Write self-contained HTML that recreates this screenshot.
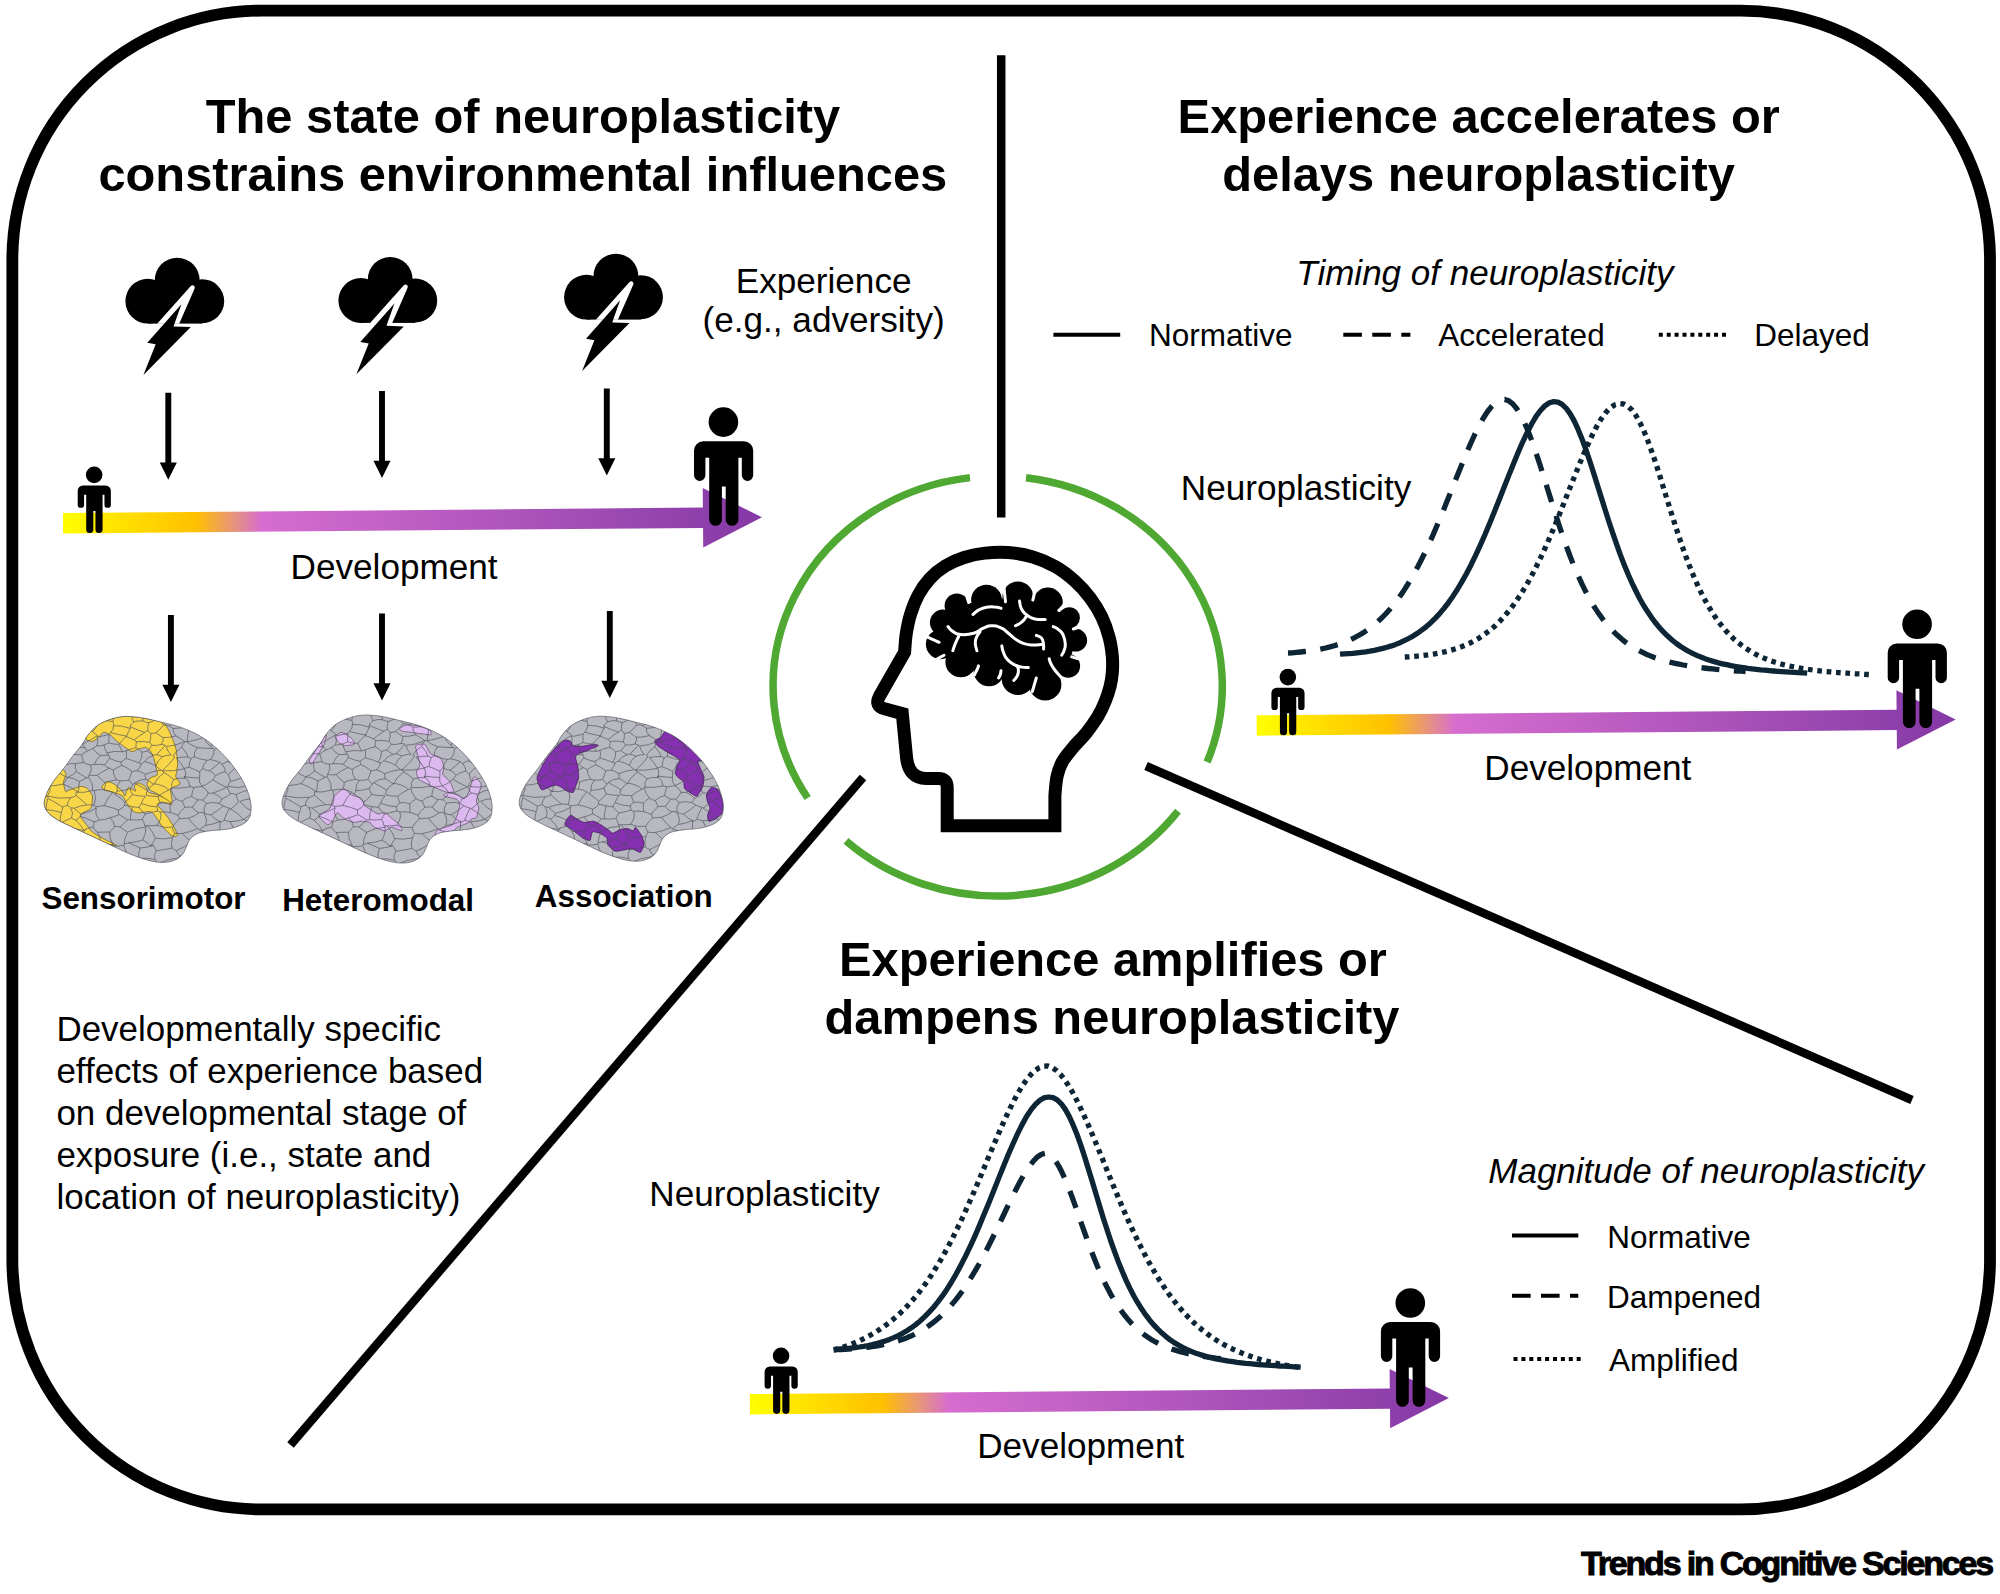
<!DOCTYPE html>
<html lang="en"><head><meta charset="utf-8"><title>Neuroplasticity figure</title>
<style>
html,body{margin:0;padding:0;background:#fff;}
body{width:2000px;height:1594px;overflow:hidden;}
svg{display:block;}
text{font-family:"Liberation Sans",Arial,Helvetica,sans-serif;fill:#000;}
.b{font-weight:700;}
.i{font-style:italic;}
</style></head><body>
<svg width="2000" height="1594" viewBox="0 0 2000 1594">
<rect x="12.35" y="10.65" width="1977.65" height="1498.75" rx="249.5" ry="249.5" fill="#fff" stroke="#000" stroke-width="11.8"/>
<g stroke="#000" stroke-width="8.5" fill="none">
<line x1="1001.2" y1="55.2" x2="1001.2" y2="517.6"/>
<line x1="863" y1="777.6" x2="290.5" y2="1444.9"/>
<line x1="1146" y1="766" x2="1912" y2="1100"/>
</g>
<g stroke="#4fa832" stroke-width="7.5" fill="none">
<path d="M970,477.6A224.6,210 0 0 0 807.7,798"/>
<path d="M1026,477.7A224.6,210 0 0 1 1207.1,762"/>
<path d="M846,840.9A224.6,210 0 0 0 1178,811.2"/>
</g>
<defs>
<linearGradient id="dg" gradientUnits="userSpaceOnUse" x1="0" y1="0" x2="699" y2="0"><stop offset="0" stop-color="#ffff00"/><stop offset="0.06" stop-color="#ffe800"/><stop offset="0.19" stop-color="#ffc000"/><stop offset="0.243" stop-color="#e8957a"/><stop offset="0.284" stop-color="#d66dcf"/><stop offset="0.45" stop-color="#c462c6"/><stop offset="0.75" stop-color="#a04db4"/><stop offset="1" stop-color="#8438a6"/></linearGradient>
<g id="cloud"><circle cx="37.8" cy="56.2" r="22.4"/><circle cx="67.2" cy="35.1" r="22.4"/><circle cx="92.2" cy="56.2" r="22"/><rect x="37.8" y="50" width="54.4" height="28.6"/><path d="M80.6,41.2Q82.6,39.3 84.2,41Q85.3,42.2 84.5,43.8L69.2,78.8L47.1,78.8Z" fill="#fff"/><path d="M71.4,59.2L63.5,81.4L80.8,82.1L33.4,130L45.7,99.2L37.3,97.7Z"/></g>
<g id="person"><circle cx="29.4" cy="14.8" r="14.8"/><path d="M9.3,33.9H49.9A9.3,9.3 0 0 1 59.2,43.2V68A5.7,5.7 0 0 1 47.8,68V50.4H44.4V112.2A5.9,5.9 0 0 1 31.7,112.2V79.2H27.9V112.2A5.9,5.9 0 0 1 15.2,112.2V50.4H11.4V68A5.7,5.7 0 0 1 0,68V43.2A9.3,9.3 0 0 1 9.3,33.9Z"/></g>
<g id="devarrow"><g transform="rotate(-0.5)"><path d="M0,-10.2H640V-29.7L699,0L640,29.7V10.2H0Z" fill="url(#dg)"/></g><use href="#person" transform="translate(14.7,-56.7) scale(0.56)"/><use href="#person" transform="translate(631,-116)"/></g>
<g id="varrow"><path d="M-2.95,0H2.95V69.7H8.55L0,86.9L-8.55,69.7H-2.95Z"/></g>
</defs>
<use href="#cloud" x="110" y="245"/>
<use href="#cloud" x="323" y="244.3"/>
<use href="#cloud" x="548.7" y="241"/>
<use href="#varrow" x="168.3" y="392.8"/>
<use href="#varrow" x="382" y="391"/>
<use href="#varrow" x="606.8" y="388.5"/>
<use href="#varrow" x="170.9" y="615"/>
<use href="#varrow" x="382" y="613.5"/>
<use href="#varrow" x="609.8" y="611"/>
<use href="#devarrow" x="63" y="523.3"/>
<use href="#devarrow" x="1256.7" y="725.5"/>
<use href="#devarrow" x="749.9" y="1404.2"/>
<defs><path id="parc" d="M103,-94Q67,-94 30,-92M1094,9Q1082,51 1096,94M1114,79Q1108,86 1096,94M858,-66Q846,-56 832,-54M201,-91Q235,-106 269,-91M173,-84Q186,-88 201,-91M-94,-92Q-73,-74 -69,-45M-69,-45Q-55,-35 -41,-36M-69,-45Q-77,-33 -78,-22M-117,51Q-103,37 -97,30M-78,-22Q-80,9 -97,30M30,-92Q35,-83 33,-75M33,-75Q4,-51 -15,-27M-41,-36Q-29,-32 -15,-27M1073,-74Q1077,-89 1070,-103M1094,9Q1074,12 1055,3M1055,3Q1050,-26 1049,-54M1073,-74Q1058,-61 1049,-54M1045,7Q1008,9 965,-18M967,-37Q965,-28 965,-18M967,-37Q998,-51 1025,-69M1049,-54Q1034,-64 1025,-69M832,-45Q823,-35 808,-18M736,-86Q744,-59 766,-27M808,-18Q788,-16 766,-27M311,1098Q310,1097 309,1097M443,1005Q427,999 408,996M443,1005Q439,1034 413,1062M413,1062Q383,1066 354,1066M354,1066Q367,1023 404,990M427,1101Q413,1080 413,1062M309,1097Q316,1084 328,1076M328,1076Q339,1069 354,1066M331,984Q311,1024 322,1063M331,984Q368,982 404,990M322,1063Q322,1068 328,1076M331,984Q320,970 314,953M335,890Q319,922 314,953M335,890Q359,895 384,885M384,885Q404,943 408,996M427,1101Q452,1096 477,1075M489,1090Q480,1084 477,1075M963,708Q932,722 899,723M963,708Q964,708 965,707M925,797Q954,766 982,719M925,797Q914,760 899,723M965,707Q973,714 982,719M928,808Q946,814 962,832M962,832Q991,799 1024,746M982,719Q1005,730 1024,746M736,-86Q711,-72 688,-55M688,-55Q692,-49 693,-42M766,-27Q745,-7 730,-1M693,-42Q718,-17 730,-1M808,-18Q797,16 811,50M811,50Q771,43 732,45M730,-1Q736,22 732,45M673,-61Q634,-68 602,-77M602,-77Q583,-94 574,-115M688,-55Q681,-58 673,-61M588,-19Q604,-46 602,-77M588,-19Q615,-1 644,1M644,1Q662,-21 693,-42M489,-61Q528,-83 574,-115M103,-94Q125,-69 132,-53M132,-53Q157,-58 175,-78M269,-91Q240,-42 247,5M175,-78Q183,-27 218,5M247,5Q233,2 218,5M344,-10Q333,13 332,36M332,36Q296,32 265,9M247,5Q256,11 265,9M904,-96Q936,-88 966,-66M858,-66Q872,-69 886,-71M886,-71Q896,-84 904,-96M967,-37Q963,-52 966,-66M866,615Q879,625 896,631M866,615Q843,645 807,676M896,631Q880,672 870,713M807,676Q822,707 855,726M870,713Q864,721 855,726M902,636Q898,632 896,631M902,636Q947,672 963,708M899,723Q884,718 870,713M832,-45Q861,-31 874,-6M886,-71Q884,-28 916,8M874,-6Q897,-0 916,8M965,-18Q959,3 938,16M916,8Q928,17 938,16M1096,94Q1084,97 1072,95M1045,7Q1045,46 1019,75M1019,75Q1025,78 1033,77M1072,95Q1056,81 1033,77M-75,905Q-74,899 -77,893M311,1098Q278,1097 249,1083M249,1083Q231,1100 205,1103M477,848Q493,804 492,760M477,848Q447,864 407,868M492,760Q442,764 403,795M403,795Q387,835 387,877M387,877Q399,873 407,868M1110,1099Q1103,1093 1098,1088M1098,1088Q1088,1071 1085,1050M1069,980Q1095,981 1119,983M1069,980Q1061,976 1057,968M1057,968Q1078,1005 1082,1044M1085,1050Q1083,1046 1082,1044M1057,968Q1025,998 1006,1032M1082,1044Q1047,1044 1012,1039M1053,748Q1057,709 1053,671M1053,748Q1083,748 1115,759M1093,668Q1074,678 1053,671M965,707Q992,677 1015,659M1030,752Q1041,747 1053,748M1013,661Q1032,667 1053,671M1043,619Q1032,637 1013,661M344,-10Q370,0 395,-8M395,-8Q393,-41 413,-74M489,-61Q490,-66 489,-70M413,-74Q451,-68 489,-70M396,289Q381,306 370,313M396,289Q431,303 458,319M375,336Q399,348 424,378M375,336Q375,325 370,313M424,378Q437,376 450,372M450,372Q467,347 470,325M458,319Q464,323 470,325M396,236Q421,222 444,215M396,236Q401,262 396,289M473,246Q460,228 444,215M473,246Q477,283 458,319M409,438Q418,406 424,378M409,438Q425,458 430,471M430,471Q431,465 436,458M436,458Q462,433 492,431M492,431Q487,415 489,398M489,398Q468,378 450,372M486,310Q519,321 540,340M486,310Q477,317 470,325M489,398Q521,375 565,370M540,340Q555,359 565,370M33,-75Q51,-66 67,-49M132,-53Q123,-51 113,-49M67,-49Q90,-46 113,-49M-117,51Q-108,83 -87,116M-97,30Q-64,52 -30,57M-30,57Q-48,85 -45,114M-45,114Q-66,115 -87,116M-87,116Q-91,124 -92,133M-92,239Q-89,237 -86,235M-14,196Q-50,158 -92,133M-14,196Q-21,210 -18,224M-86,235Q-51,236 -18,224M321,111Q363,127 398,136M321,111Q316,119 313,124M398,136Q374,168 361,192M313,124Q313,153 312,182M312,182Q336,193 361,192M-12,543Q4,553 20,552M-12,543Q-51,520 -88,501M20,552Q18,549 16,548M10,430Q-52,479 -90,491M10,430Q13,455 28,478M-88,501Q-88,496 -90,491M28,478Q33,513 16,548M716,623Q731,600 742,573M716,623Q724,647 748,662M748,662Q759,657 769,660M784,597Q774,582 766,574M784,597Q766,630 775,666M766,574Q754,573 742,573M698,699Q715,737 743,770M698,699Q729,685 748,662M780,749Q793,705 769,660M780,749Q765,762 750,780M743,770Q747,773 750,780M866,615Q859,608 845,597M807,676Q791,677 775,666M845,597Q815,586 784,597M850,722Q818,742 780,749M850,722Q853,725 855,726M680,626Q675,602 667,583M680,626Q698,622 716,623M742,573Q725,563 713,549M667,583Q682,558 713,549M1034,596Q1042,607 1043,619M1034,596Q1052,569 1056,533M1056,533Q1067,534 1077,540M1089,510Q1086,524 1077,540M927,537Q963,508 1000,504M927,537Q933,561 939,588M946,584Q970,569 991,568M991,568Q1001,545 1014,516M1014,516Q1013,511 1009,506M1000,504Q1005,507 1009,506M900,530Q914,528 927,537M900,530Q888,505 886,485M984,477Q989,492 1000,504M984,477Q935,499 888,480M902,636Q920,619 939,588M845,597Q858,580 859,568M859,568Q888,550 900,530M1015,659Q974,634 946,584M1034,596Q1011,582 991,568M1056,533Q1035,528 1014,516M766,574Q789,550 793,526M713,549Q714,521 724,489M724,489Q743,484 763,481M763,481Q786,500 793,526M859,568Q847,544 817,526M886,485Q884,486 882,487M882,487Q849,510 817,526M817,526Q805,531 793,526M874,-6Q858,35 837,60M809,46Q822,51 837,60M1072,95Q1088,146 1080,199M1033,77Q1019,109 1004,134M1004,134Q1032,166 1080,199M-118,827Q-125,777 -94,719M-94,719Q-95,713 -95,708M-88,501Q-117,547 -111,602M-12,543Q-54,596 -85,621M-111,602Q-97,615 -85,621M322,1063Q290,1028 252,975M249,1083Q231,1039 235,989M235,989Q243,979 252,975M314,953Q278,956 240,985M252,975Q244,980 240,985M477,1075Q486,1072 494,1074M574,1069Q574,1039 553,1014M553,1014Q524,1034 494,1074M494,1074Q486,1042 448,1003M384,885Q387,882 387,877M464,904Q454,941 458,976M464,904Q432,882 407,868M448,1003Q458,990 458,976M499,751Q492,751 485,748M499,751Q525,788 538,837M485,748Q490,754 492,760M477,848Q499,865 515,890M538,837Q529,859 515,890M464,904Q497,901 528,885M515,890Q522,885 528,885M574,1069Q598,1062 624,1073M624,1073Q651,1093 669,1103M668,804Q685,835 715,861M668,804Q705,794 743,770M774,788Q762,787 750,780M774,788Q753,828 717,849M417,710Q410,708 404,711M417,710Q416,665 427,621M404,711Q378,687 360,674M360,674Q359,658 359,643M359,643Q380,632 390,609M390,609Q411,614 427,621M474,708Q485,729 485,748M474,708Q446,714 417,710M403,795Q382,776 367,759M367,759Q385,735 404,711M499,509Q472,485 436,458M499,509Q491,526 495,542M430,471Q420,481 416,497M416,497Q419,518 427,537M427,537Q457,549 490,548M561,658Q586,652 611,660M561,658Q572,702 545,748M620,761Q633,729 654,704M620,761Q580,770 545,748M611,660Q628,667 647,679M647,679Q652,692 654,704M631,802Q649,806 668,804M631,802Q620,779 620,761M698,699Q677,700 654,704M631,802Q624,818 621,832M499,751Q523,752 545,748M621,832Q579,848 538,837M680,626Q656,656 647,679M609,602Q607,631 611,660M609,602Q621,581 639,567M639,567Q654,581 667,583M980,856Q989,897 1009,939M980,856Q950,891 924,934M1009,939Q998,970 977,990M977,990Q948,973 930,960M924,934Q926,948 930,960M1044,956Q1028,942 1009,939M1044,956Q1052,968 1069,980M997,1019Q1002,1025 1006,1032M997,1019Q985,1002 977,990M997,1019Q956,1054 917,1063M909,989Q898,1026 917,1063M909,989Q923,975 930,960M1115,918Q1092,919 1070,924M1115,918Q1102,880 1115,842M1070,924Q1057,894 1032,859M1115,842Q1100,833 1089,832M1089,832Q1071,838 1058,852M1058,852Q1045,860 1032,859M1044,956Q1061,937 1070,924M977,854Q1004,861 1032,859M1115,759Q1118,794 1089,832M1030,752Q1031,803 1058,852M962,832Q965,841 977,854M1098,1088Q1063,1100 1033,1109M1012,1039Q1009,1065 1009,1091M1033,1109Q1019,1100 1009,1091M493,-52Q484,-44 477,-30M493,-52Q520,-28 551,-5M477,-30Q473,1 478,32M558,13Q554,5 551,-5M558,13Q530,31 506,44M506,44Q490,42 478,32M395,-8Q408,-7 421,-9M421,-9Q450,-20 477,-30M489,-70Q489,-61 493,-52M588,-19Q570,-16 551,-5M421,-9Q423,14 433,39M433,39Q457,26 478,32M416,83Q406,108 397,140M416,83Q417,77 415,70M415,70Q445,91 486,110M486,110Q451,140 436,162M436,162Q418,148 397,140M321,111Q338,86 335,64M335,64Q376,60 416,83M398,136Q399,138 397,140M332,36Q338,49 335,64M433,39Q418,54 415,70M502,96Q492,104 486,110M502,96Q498,70 506,44M446,175Q477,168 510,178M446,175Q443,166 436,162M502,96Q507,106 515,119M510,178Q518,149 515,119M396,236Q387,242 378,243M446,175Q443,194 444,215M361,192Q368,215 378,243M473,246Q485,243 499,237M486,310Q499,279 529,267M529,267Q512,255 499,237M510,178Q515,187 521,199M499,237Q511,220 521,199M515,119Q527,117 540,112M558,13Q567,39 577,60M540,112Q561,88 577,60M641,19Q643,10 644,1M641,19Q632,48 606,66M606,66Q593,58 577,60M218,5Q208,2 198,7M113,-49Q113,-21 119,6M198,7Q158,11 119,6M265,9Q266,55 234,107M313,124Q287,133 263,140M234,107Q251,122 263,140M-86,235Q-101,271 -88,308M-99,447Q-87,470 -85,487M-99,447Q-81,432 -72,424M-72,424Q-96,398 -108,380M-88,308Q-79,316 -72,324M-108,380Q-85,349 -72,324M416,497Q383,513 352,513M427,537Q415,563 390,589M390,589Q365,554 342,536M352,513Q351,523 342,536M409,438Q389,443 368,442M352,513Q348,476 368,442M375,336Q347,355 334,369M334,369Q333,406 351,436M368,442Q360,441 351,436M289,613Q307,561 331,522M289,613Q327,623 359,643M390,609Q387,599 390,589M331,522Q337,528 342,536M984,477Q969,444 970,407M970,407Q983,403 999,401M1009,506Q1017,478 1046,450M999,401Q1028,431 1046,450M1089,510Q1070,478 1062,454M1081,440Q1069,444 1062,454M1062,454Q1054,449 1046,450M1004,134Q989,128 973,132M957,164Q965,149 973,132M957,164Q1011,200 1055,214M1077,191Q1067,197 1055,210M1055,214Q1054,212 1055,210M882,487Q847,465 815,436M815,436Q788,469 764,480M724,489Q714,483 705,483M705,483Q705,446 678,414M678,414Q714,422 751,423M751,423Q745,453 764,480M691,175Q695,120 702,65M691,175Q738,162 773,145M767,122Q769,133 773,145M767,122Q752,82 725,41M725,41Q709,49 703,65M703,65Q703,65 702,65M741,215Q704,196 685,170M741,215Q779,220 818,221M818,221Q809,215 805,206M805,206Q779,180 773,145M805,206Q825,161 827,123M794,117Q812,122 827,123M794,117Q782,116 767,122M732,45Q729,43 725,41M809,46Q795,83 794,117M641,19Q674,39 703,65M606,66Q616,77 624,83M624,83Q662,84 702,65M888,120Q912,95 932,86M888,120Q878,112 872,105M872,105Q863,91 844,71M844,71Q888,52 937,44M932,86Q938,64 945,44M945,44Q941,44 937,44M936,174Q908,147 888,120M936,174Q945,168 957,164M973,132Q944,107 932,86M936,174Q929,185 930,198M855,123Q864,113 872,105M855,123Q857,162 864,200M930,198Q897,198 864,200M837,60Q840,64 844,71M855,123Q841,119 827,123M938,16Q936,30 937,44M1019,75Q978,55 945,44M335,890Q333,885 333,881M240,985Q226,957 217,931M333,881Q300,883 266,877M266,877Q252,878 237,881M237,881Q223,908 217,931M241,724Q243,741 236,760M241,724Q253,720 268,711M257,796Q287,794 317,794M257,796Q246,780 236,760M268,711Q290,714 317,696M317,696Q341,724 340,759M340,759Q325,778 317,794M333,881Q313,835 317,794M266,877Q279,837 257,796M204,771Q221,764 236,760M204,771Q175,807 179,845M179,845Q202,867 237,881M289,613Q270,618 248,620M248,620Q251,625 252,630M252,630Q243,674 268,711M360,674Q337,693 317,696M367,759Q354,753 340,759M621,832Q611,867 619,904M528,885Q536,905 542,924M542,924Q584,914 619,904M458,976Q499,968 536,984M542,924Q527,953 536,984M553,1014Q552,1013 551,1011M551,1011Q546,998 536,984M715,861Q678,900 640,922M619,904Q627,915 640,922M874,872Q852,883 834,892M874,872Q884,847 894,823M834,892Q824,850 816,804M894,823Q870,799 846,795M846,795Q830,805 816,804M928,808Q910,811 894,823M917,926Q892,891 874,872M917,926Q922,930 924,934M850,722Q852,759 846,795M774,788Q783,805 794,814M794,814Q805,813 816,804M917,926Q862,929 799,963M817,1000Q862,981 909,989M817,1000Q812,985 799,971M834,892Q824,896 816,900M799,963Q812,935 816,900M794,814Q789,843 775,872M816,900Q796,890 775,872M717,849Q722,863 728,874M775,872Q751,878 728,874M816,1087Q823,1077 826,1065M826,1065Q850,1080 870,1088M749,1067Q731,1075 709,1094M749,1067Q784,1086 816,1087M817,1000Q827,1031 826,1065M909,1069Q893,1072 870,1088M669,1103Q680,1096 685,1090M709,1094Q696,1087 685,1090M547,650Q550,636 544,621M547,650Q520,660 489,670M544,621Q503,619 470,598M489,670Q473,653 460,627M460,627Q461,613 470,598M609,602Q585,589 562,595M562,595Q548,606 544,621M561,658Q553,652 547,650M474,708Q479,691 489,670M495,542Q524,551 551,550M490,548Q475,572 470,598M551,550Q552,572 562,595M427,621Q445,622 460,627M917,1078Q948,1068 982,1085M909,1069Q914,1073 917,1078M1009,1091Q995,1084 982,1085M540,340Q547,303 572,277M570,374Q610,325 632,279M632,279Q628,276 623,272M614,266Q595,263 572,277M529,267Q536,262 543,263M572,277Q555,266 543,263M680,174Q658,149 637,134M680,174Q631,204 590,206M637,134Q604,148 575,145M575,145Q578,168 567,192M567,192Q575,194 586,199M685,170Q679,178 676,184M624,83Q619,106 637,134M676,184Q665,196 665,211M665,211Q631,246 623,272M614,266Q594,236 590,206M540,112Q562,135 575,145M521,199Q544,203 567,192M543,263Q564,231 586,199M312,182Q298,193 289,196M378,243Q341,235 303,250M289,196Q294,225 303,250M316,288Q319,277 312,266M316,288Q342,307 370,313M312,266Q307,259 303,250M164,520Q123,479 91,465M164,520Q168,482 171,447M171,447Q144,421 114,419M91,465Q105,442 114,419M316,288Q305,310 292,334M334,369Q325,363 315,356M292,334Q300,349 315,356M-4,444Q-12,421 -31,403M-4,444Q38,403 69,383M-31,403Q-30,369 -29,335M69,383Q70,375 74,365M74,365Q39,338 13,329M13,329Q5,325 -6,320M-6,320Q-14,330 -29,335M10,430Q2,436 -4,444M-72,424Q-53,415 -31,403M28,478Q58,476 91,465M112,419Q113,419 114,419M112,419Q92,410 69,383M-72,324Q-49,328 -29,335M-18,224Q6,270 -6,320M626,433Q610,462 618,492M626,433Q604,406 580,386M580,386Q542,424 530,468M602,505Q607,500 612,496M602,505Q576,470 532,463M612,496Q615,493 618,492M705,483Q661,496 618,492M678,414Q678,419 679,425M679,425Q654,419 626,433M568,365Q570,377 580,386M570,374Q623,378 679,360M679,360Q690,392 679,425M492,431Q514,449 530,468M639,567Q619,536 612,496M551,550Q575,522 602,505M499,509Q509,484 532,463M1081,440Q1082,421 1093,406M999,401Q1020,374 1024,357M1093,406Q1088,379 1064,350M1024,357Q1042,352 1064,350M1088,340Q1076,349 1064,350M1088,340Q1084,308 1077,271M1055,210Q1074,243 1082,270M1077,271Q1079,270 1082,270M741,215Q721,247 726,277M726,277Q760,299 788,301M788,301Q796,300 804,296M804,296Q825,264 821,229M864,200Q855,207 843,213M821,229Q831,221 843,213M925,350Q909,322 888,310M925,350Q964,334 997,317M897,291Q890,300 888,310M897,291Q922,278 957,256M997,317Q993,306 993,295M993,295Q976,281 962,267M962,267Q957,262 957,256M930,198Q932,227 957,256M843,213Q874,251 897,291M1024,357Q1014,337 997,317M1082,270Q1039,279 993,295M1055,214Q1014,233 962,267M901,447Q895,423 892,400M901,447Q936,434 975,411M892,400Q903,375 927,351M975,411Q951,391 927,351M888,480Q889,463 901,447M970,407Q972,410 975,411M925,350Q926,350 927,351M800,374Q819,387 828,408M800,374Q832,338 849,316M828,408Q849,387 875,380M875,380Q877,357 860,329M849,316Q856,323 860,329M815,436Q824,420 828,408M751,423Q753,402 752,381M766,357Q759,369 752,381M766,357Q781,371 800,374M788,301Q768,331 766,357M804,296Q830,305 849,316M892,400Q879,389 875,380M888,310Q874,317 860,329M696,279Q667,277 639,286M696,279Q703,283 711,289M711,289Q700,318 700,349M639,286Q666,328 676,357M676,357Q688,354 700,349M665,211Q690,249 696,279M726,277Q717,281 711,289M752,381Q727,363 700,349M-111,1035Q-63,1072 -6,1070M204,771Q201,780 192,784M120,863Q149,843 179,845M120,863Q123,817 130,773M192,784Q160,771 130,773M87,870Q74,819 54,780M87,870Q96,868 107,867M59,747Q55,763 54,780M59,747Q68,743 77,745M120,863Q114,865 107,867M130,773Q109,756 77,745M46,727Q17,722 -10,734M46,727Q21,682 0,637M-10,734Q-30,704 -64,685M8,643Q-21,652 -60,675M59,747Q50,738 46,727M83,660Q75,696 78,733M83,660Q46,645 0,637M17,563Q43,581 89,622M17,563Q10,601 8,643M89,622Q89,642 83,660M-85,621Q-61,650 -60,675M-95,708Q-80,700 -64,685M10,806Q-11,802 -41,776M10,806Q16,837 12,868M-36,856Q-54,840 -62,814M-36,856Q-11,858 12,868M-41,776Q-44,786 -47,797M-47,797Q-58,808 -62,814M54,780Q36,785 10,806M-10,734Q-22,754 -41,776M8,867Q48,882 87,870M8,867Q10,867 12,868M-77,893Q-59,878 -36,856M-118,827Q-90,815 -62,814M-94,719Q-67,749 -47,797M16,548Q73,569 128,558M89,622Q100,616 111,611M111,611Q112,586 128,558M154,520Q155,532 155,543M155,543Q143,555 128,558M784,968Q765,945 740,932M784,968Q766,998 728,1019M740,932Q693,945 655,959M728,1019Q707,1030 686,1026M686,1026Q666,1009 653,993M653,993Q654,982 648,972M648,972Q654,965 655,959M799,971Q791,971 784,968M728,874Q737,900 740,932M749,1067Q730,1039 728,1019M640,922Q641,938 655,959M685,1090Q674,1058 686,1026M624,1073Q627,1030 653,993M551,1011Q595,979 648,972M67,-49Q67,-20 43,9M119,6Q112,18 111,27M43,9Q77,7 111,27M-15,-27Q-8,-1 11,16M43,9Q26,12 11,16M-30,57Q-17,50 2,37M11,16Q11,25 2,37M134,135Q102,116 73,117M134,135Q132,167 118,201M32,151Q26,173 21,191M32,151Q43,136 55,123M55,123Q64,120 73,117M21,191Q43,216 66,233M118,201Q99,211 76,225M66,233Q70,229 76,225M-14,196Q3,198 21,191M-45,114Q-2,125 32,151M2,37Q45,75 55,123M111,27Q109,43 108,57M108,57Q101,81 73,117M13,329Q31,274 66,233M101,334Q89,346 74,365M101,334Q107,299 98,264M98,264Q88,246 76,225M167,134Q197,101 227,92M167,134Q163,140 161,147M161,147Q169,105 147,67M227,92Q204,73 177,67M177,67Q162,66 147,67M108,57Q129,69 147,67M134,135Q147,137 161,147M198,7Q174,36 177,67M234,107Q229,99 227,92M118,201Q157,213 198,216M167,134Q167,161 186,191M198,216Q189,203 186,191M186,191Q225,162 255,134M289,196Q272,205 254,203M255,134Q265,169 254,203M351,436Q320,439 296,456M315,356Q279,378 257,404M257,404Q269,427 296,456M331,522Q309,506 289,504M296,456Q297,480 289,504M241,611Q246,616 248,620M241,611Q255,561 242,510M289,504Q266,499 242,510M154,520Q192,529 235,508M241,611Q224,605 207,608M207,608Q179,574 155,543M242,510Q239,510 235,508M112,419Q138,406 156,379M171,447Q185,435 206,422M206,422Q181,405 156,379M235,508Q239,465 215,418M206,422Q210,419 215,418M257,404Q237,409 217,403M215,418Q214,410 217,403M101,334Q126,319 152,325M156,379Q146,351 152,325M107,867Q117,888 119,906M217,931Q195,945 171,939M119,906Q152,914 171,939M-14,1016Q-29,999 -59,980M-14,1016Q4,987 31,976M9,948Q17,957 28,969M9,948Q-15,952 -40,954M-40,954Q-60,971 -74,984M28,969Q31,973 31,976M-74,984Q-67,985 -59,980M-111,1035Q-74,1009 -59,980M-14,1064Q-16,1040 -14,1016M8,867Q6,907 9,948M119,906Q107,926 93,943M93,943Q58,965 28,969M-75,905Q-54,926 -40,954M144,631Q136,627 128,628M144,631Q165,655 178,672M128,628Q144,664 132,698M178,672Q176,679 174,687M174,687Q168,699 153,713M153,713Q144,708 132,698M111,611Q122,618 128,628M207,608Q173,612 144,631M252,630Q223,657 178,672M78,733Q111,711 132,698M241,724Q201,694 174,687M192,784Q182,750 153,713M209,237Q223,231 235,220M209,237Q190,254 180,264M235,220Q248,251 272,268M272,268Q249,299 243,331M180,264Q187,292 190,317M190,317Q204,330 225,334M243,331Q234,329 225,334M198,216Q200,227 209,237M254,203Q247,210 235,220M98,264Q139,258 180,264M312,266Q292,267 272,268M292,334Q268,326 243,331M152,325Q173,317 190,317M217,403Q235,368 225,334M115,1008Q139,1018 162,1018M115,1008Q88,1023 72,1037M94,1075Q88,1065 78,1059M94,1075Q131,1077 168,1072M168,1072Q178,1046 167,1019M78,1059Q72,1047 72,1037M167,1019Q164,1018 162,1018M93,943Q106,972 115,1008M171,939Q172,977 162,1018M31,976Q48,1007 72,1037M95,1090Q91,1082 94,1075M-14,1064Q31,1052 78,1059M205,1103Q190,1080 168,1072M235,989Q198,1007 167,1019" fill="none" stroke="#4b4d59" stroke-width="0.75" stroke-opacity="0.85" vector-effect="non-scaling-stroke"/></defs>
<clipPath id="bc0"><path d="M44.2,804.5C43.9,801.3 45.1,797.5 46.6,793.7C48.1,789.9 50.5,785.7 53.2,781.7C55.9,777.7 59.6,773.9 62.8,769.7C66,765.5 69.2,760.7 72.4,756.5C75.6,752.4 79.4,748.2 82,744.6C84.6,741 85.4,738.2 88,735C90.6,731.8 93.6,728.1 97.5,725.4C101.5,722.7 107.1,720.3 111.9,718.8C116.7,717.3 120.9,716.5 126.3,716.4C131.7,716.3 138.3,717.2 144.3,718.2C150.3,719.2 156.3,720.9 162.3,722.4C168.3,723.9 174.3,725.1 180.3,727.2C186.3,729.3 192.7,731.9 198.3,735C203.8,738.1 208.8,741.6 213.8,745.8C218.8,750 224,755.3 228.2,760.1C232.4,764.9 236,769.9 239,774.5C242,779.1 244.3,783.3 246.2,787.7C248.1,792.1 249.6,797.1 250.4,800.9C251.2,804.7 251.3,807.5 251,810.5C250.7,813.5 250.2,816.5 248.6,818.9C247,821.3 244.8,823.2 241.4,824.9C238,826.5 233.4,828 228.2,829C223,830 215.2,830.1 210.2,830.8C205.2,831.5 201.4,832 198.3,833.2C195.1,834.4 192.9,836.2 191.1,838C189.3,839.8 188.7,841.6 187.5,844C186.3,846.4 185.5,850 183.9,852.4C182.3,854.8 180.5,856.8 177.9,858.4C175.3,860 171.9,861.4 168.3,862C164.7,862.6 160.7,862.6 156.3,862C151.9,861.4 146.9,860 141.9,858.4C136.9,856.8 131.9,854.8 126.3,852.4C120.7,850 114.3,846.8 108.3,844C102.3,841.2 96.3,838.4 90.4,835.6C84.4,832.8 77.8,829.8 72.4,827.2C67,824.7 62,822.5 58,820.1C54,817.7 50.7,815.5 48.4,812.9C46.1,810.3 44.5,807.7 44.2,804.5Z"/></clipPath>
<path d="M44.2,804.5C43.9,801.3 45.1,797.5 46.6,793.7C48.1,789.9 50.5,785.7 53.2,781.7C55.9,777.7 59.6,773.9 62.8,769.7C66,765.5 69.2,760.7 72.4,756.5C75.6,752.4 79.4,748.2 82,744.6C84.6,741 85.4,738.2 88,735C90.6,731.8 93.6,728.1 97.5,725.4C101.5,722.7 107.1,720.3 111.9,718.8C116.7,717.3 120.9,716.5 126.3,716.4C131.7,716.3 138.3,717.2 144.3,718.2C150.3,719.2 156.3,720.9 162.3,722.4C168.3,723.9 174.3,725.1 180.3,727.2C186.3,729.3 192.7,731.9 198.3,735C203.8,738.1 208.8,741.6 213.8,745.8C218.8,750 224,755.3 228.2,760.1C232.4,764.9 236,769.9 239,774.5C242,779.1 244.3,783.3 246.2,787.7C248.1,792.1 249.6,797.1 250.4,800.9C251.2,804.7 251.3,807.5 251,810.5C250.7,813.5 250.2,816.5 248.6,818.9C247,821.3 244.8,823.2 241.4,824.9C238,826.5 233.4,828 228.2,829C223,830 215.2,830.1 210.2,830.8C205.2,831.5 201.4,832 198.3,833.2C195.1,834.4 192.9,836.2 191.1,838C189.3,839.8 188.7,841.6 187.5,844C186.3,846.4 185.5,850 183.9,852.4C182.3,854.8 180.5,856.8 177.9,858.4C175.3,860 171.9,861.4 168.3,862C164.7,862.6 160.7,862.6 156.3,862C151.9,861.4 146.9,860 141.9,858.4C136.9,856.8 131.9,854.8 126.3,852.4C120.7,850 114.3,846.8 108.3,844C102.3,841.2 96.3,838.4 90.4,835.6C84.4,832.8 77.8,829.8 72.4,827.2C67,824.7 62,822.5 58,820.1C54,817.7 50.7,815.5 48.4,812.9C46.1,810.3 44.5,807.7 44.2,804.5Z" fill="#b8b9c0"/>
<g clip-path="url(#bc0)">
<path d="M86.4,739.6C85.9,738.9 86.5,736.2 87.6,734.8C88.7,733.4 94.8,726.8 97.2,725.2C99.6,723.6 108.7,719.5 111.6,718.6C114.5,717.7 122.8,716.3 126,716.2C129.2,716.1 140.4,717.4 144,718C147.6,718.6 159.8,721.4 162,722.2C164.2,723 165.5,724.9 166.2,725.8C166.9,726.7 168.5,729.8 169.2,731.2C169.9,732.6 172.1,737.9 172.8,739.6C173.5,741.3 175.4,746.3 175.8,748C176.2,749.7 176.8,754.7 177,756.4C177.2,758.1 177.7,763.1 177.6,764.8C177.5,766.5 176.6,772 176.4,773.2C176.2,774.4 175.4,775.7 175.8,776.8C176.2,777.9 180.5,782.8 180,784C179.5,785.2 171.2,787.6 170.4,788.8C169.6,790 171.5,794.6 171.6,796C171.7,797.4 172.3,803 171.6,803.2C170.9,803.4 165.8,799.4 164.4,798.4C163,797.4 158.6,794.4 157.2,793.6C155.8,792.8 151,791 150,790C149,789 147,785.2 147,784C147,782.8 149,778.9 150,778C151,777.1 156.6,776.1 157.2,775C157.8,773.9 156.4,768.9 156,767.2C155.6,765.5 154.2,759.3 153.6,757.6C153,755.9 150.8,751.4 150,750.4C149.2,749.4 146.4,747.5 145.2,747.4C144,747.3 139.3,748.8 138,749.2C136.7,749.6 133.2,751.7 132,751.6C130.8,751.5 127.1,748.7 126,748C124.9,747.3 122.2,745.1 121.2,744.4C120.2,743.7 117.4,741.6 116.4,740.8C115.4,740 112.6,736.8 111.6,736C110.6,735.2 107.6,733.4 106.8,733C106,732.6 103.9,732.1 103.2,732.4C102.5,732.7 100.2,735.4 99.6,736C99,736.6 97.9,737.9 97.2,738.4C96.5,738.9 93.5,741.3 92.4,741.4C91.3,741.5 86.9,740.3 86.4,739.6Z" fill="#f8d648" stroke="#6b5a10" stroke-width="0.7"/>
<path d="M43.8,804.4C43.6,802.5 45.3,795.9 46.2,793.6C47.1,791.3 51.2,784 52.8,781.6C54.4,779.2 61.1,770.3 62.4,769.6C63.7,768.9 65.9,773.2 66,774.4C66.1,775.6 63.7,779.9 63.6,781.6C63.5,783.3 64.7,790.4 65.4,791.2C66.1,792 69.2,789.9 70.8,789.4C72.4,788.9 79.9,786.5 81.6,786.4C83.3,786.3 86.5,787.8 87.6,788.8C88.7,789.8 92,794.3 92.4,796C92.8,797.7 92,804.3 91.8,805.6C91.6,806.9 90.9,808.5 90,809.2C89.1,809.9 83.8,812.1 82.8,812.8C81.8,813.5 80,815.2 80.4,816.4C80.8,817.6 85.2,823.2 86.4,824.8C87.6,826.4 90.8,830.7 92.4,832C94,833.3 99.6,836.7 102,838C104.4,839.3 115.8,844.6 116.4,845.2C117,845.8 110.6,845 108,844C105.4,843 93.6,837.3 90,835.6C86.4,833.9 75.2,828.8 72,827.2C68.8,825.6 60,821.4 57.6,820C55.2,818.6 49.4,814.4 48,812.8C46.6,811.2 44,806.3 43.8,804.4Z" fill="#f8d648" stroke="#6b5a10" stroke-width="0.7"/>
<path d="M102,786.4C102.2,785.6 105.6,781.8 106.8,781.6C108,781.4 112.4,783 114,784C115.6,785 121.3,790 122.4,791.2C123.5,792.4 124.2,796.4 124.8,796C125.4,795.6 127.3,788.1 128.4,787.6C129.5,787.1 135,791.3 135.6,791.2C136.2,791.1 134.2,787.2 134.4,786.4C134.6,785.6 136.9,782.8 138,782.8C139.1,782.8 144.1,785.4 145.2,786.4C146.3,787.4 147.6,791.6 148.8,792.4C150,793.2 155.4,794.1 157.2,794.8C159,795.5 165.4,798.6 166.8,799.6C168.2,800.6 172.1,804.2 171.6,804.4C171.1,804.6 163.4,802 162,802C160.6,802 157.2,803.6 157.2,804.4C157.2,805.2 160.9,809.1 162,810.4C163.1,811.7 166.8,815.9 168,817.6C169.2,819.3 173,825.4 174,827.2C175,829 177.8,834.8 177.6,835.6C177.4,836.4 173.2,836.6 171.6,835.6C170,834.6 163.7,828 162,826C160.3,824 156,816.6 154.8,815.2C153.6,813.8 151.7,811.8 150,811.6C148.3,811.4 139.8,812.9 138,812.8C136.2,812.7 133.2,811.5 132,810.4C130.8,809.3 127,803.4 126,802C125,800.6 123.6,797 122.4,796C121.2,795 115.8,793 114,792.4C112.2,791.8 105.6,790.6 104.4,790C103.2,789.4 101.8,787.2 102,786.4Z" fill="#f8d648" stroke="#6b5a10" stroke-width="0.7"/>
<use href="#parc" transform="translate(44.2,716.4) scale(0.20680,0.14560)"/>
</g>
<path d="M44.2,804.5C43.9,801.3 45.1,797.5 46.6,793.7C48.1,789.9 50.5,785.7 53.2,781.7C55.9,777.7 59.6,773.9 62.8,769.7C66,765.5 69.2,760.7 72.4,756.5C75.6,752.4 79.4,748.2 82,744.6C84.6,741 85.4,738.2 88,735C90.6,731.8 93.6,728.1 97.5,725.4C101.5,722.7 107.1,720.3 111.9,718.8C116.7,717.3 120.9,716.5 126.3,716.4C131.7,716.3 138.3,717.2 144.3,718.2C150.3,719.2 156.3,720.9 162.3,722.4C168.3,723.9 174.3,725.1 180.3,727.2C186.3,729.3 192.7,731.9 198.3,735C203.8,738.1 208.8,741.6 213.8,745.8C218.8,750 224,755.3 228.2,760.1C232.4,764.9 236,769.9 239,774.5C242,779.1 244.3,783.3 246.2,787.7C248.1,792.1 249.6,797.1 250.4,800.9C251.2,804.7 251.3,807.5 251,810.5C250.7,813.5 250.2,816.5 248.6,818.9C247,821.3 244.8,823.2 241.4,824.9C238,826.5 233.4,828 228.2,829C223,830 215.2,830.1 210.2,830.8C205.2,831.5 201.4,832 198.3,833.2C195.1,834.4 192.9,836.2 191.1,838C189.3,839.8 188.7,841.6 187.5,844C186.3,846.4 185.5,850 183.9,852.4C182.3,854.8 180.5,856.8 177.9,858.4C175.3,860 171.9,861.4 168.3,862C164.7,862.6 160.7,862.6 156.3,862C151.9,861.4 146.9,860 141.9,858.4C136.9,856.8 131.9,854.8 126.3,852.4C120.7,850 114.3,846.8 108.3,844C102.3,841.2 96.3,838.4 90.4,835.6C84.4,832.8 77.8,829.8 72.4,827.2C67,824.7 62,822.5 58,820.1C54,817.7 50.7,815.5 48.4,812.9C46.1,810.3 44.5,807.7 44.2,804.5Z" fill="none" stroke="#4b4d59" stroke-width="0.8" stroke-opacity="0.8"/>
<clipPath id="bc1"><path d="M282,804.3C281.7,801 282.9,797.2 284.4,793.4C286,789.5 288.4,785.3 291.1,781.2C293.9,777.2 297.6,773.3 300.9,769.1C304.1,764.8 307.4,759.9 310.6,755.7C313.9,751.4 317.7,747.2 320.3,743.5C323,739.9 323.8,737.1 326.4,733.8C329.1,730.6 332.1,726.8 336.2,724.1C340.2,721.4 345.9,718.9 350.8,717.4C355.7,715.9 359.9,715.1 365.4,715C370.9,714.9 377.6,715.8 383.7,716.8C389.7,717.8 395.8,719.6 401.9,721.1C408,722.6 414.1,723.8 420.2,725.9C426.3,728.1 432.8,730.7 438.4,733.8C444.1,737 449.2,740.5 454.3,744.8C459.3,749 464.6,754.5 468.9,759.3C473.1,764.2 476.8,769.3 479.8,773.9C482.9,778.6 485.2,782.8 487.1,787.3C489.1,791.7 490.6,796.8 491.4,800.6C492.2,804.5 492.3,807.3 492,810.4C491.7,813.4 491.2,816.4 489.6,818.9C487.9,821.3 485.7,823.2 482.3,824.9C478.8,826.7 474.1,828.2 468.9,829.2C463.6,830.2 455.7,830.3 450.6,831C445.5,831.7 441.7,832.2 438.4,833.4C435.2,834.7 433,836.5 431.1,838.3C429.3,840.1 428.7,841.9 427.5,844.4C426.3,846.8 425.4,850.5 423.8,852.9C422.2,855.3 420.4,857.3 417.7,859C415.1,860.6 411.7,862 408,862.6C404.3,863.2 400.3,863.2 395.8,862.6C391.4,862 386.3,860.6 381.2,859C376.1,857.3 371.1,855.3 365.4,852.9C359.7,850.5 353.2,847.2 347.1,844.4C341,841.5 335,838.7 328.9,835.9C322.8,833 316.1,830 310.6,827.4C305.1,824.7 300.1,822.5 296,820.1C291.9,817.7 288.6,815.4 286.3,812.8C283.9,810.2 282.3,807.5 282,804.3Z"/></clipPath>
<path d="M282,804.3C281.7,801 282.9,797.2 284.4,793.4C286,789.5 288.4,785.3 291.1,781.2C293.9,777.2 297.6,773.3 300.9,769.1C304.1,764.8 307.4,759.9 310.6,755.7C313.9,751.4 317.7,747.2 320.3,743.5C323,739.9 323.8,737.1 326.4,733.8C329.1,730.6 332.1,726.8 336.2,724.1C340.2,721.4 345.9,718.9 350.8,717.4C355.7,715.9 359.9,715.1 365.4,715C370.9,714.9 377.6,715.8 383.7,716.8C389.7,717.8 395.8,719.6 401.9,721.1C408,722.6 414.1,723.8 420.2,725.9C426.3,728.1 432.8,730.7 438.4,733.8C444.1,737 449.2,740.5 454.3,744.8C459.3,749 464.6,754.5 468.9,759.3C473.1,764.2 476.8,769.3 479.8,773.9C482.9,778.6 485.2,782.8 487.1,787.3C489.1,791.7 490.6,796.8 491.4,800.6C492.2,804.5 492.3,807.3 492,810.4C491.7,813.4 491.2,816.4 489.6,818.9C487.9,821.3 485.7,823.2 482.3,824.9C478.8,826.7 474.1,828.2 468.9,829.2C463.6,830.2 455.7,830.3 450.6,831C445.5,831.7 441.7,832.2 438.4,833.4C435.2,834.7 433,836.5 431.1,838.3C429.3,840.1 428.7,841.9 427.5,844.4C426.3,846.8 425.4,850.5 423.8,852.9C422.2,855.3 420.4,857.3 417.7,859C415.1,860.6 411.7,862 408,862.6C404.3,863.2 400.3,863.2 395.8,862.6C391.4,862 386.3,860.6 381.2,859C376.1,857.3 371.1,855.3 365.4,852.9C359.7,850.5 353.2,847.2 347.1,844.4C341,841.5 335,838.7 328.9,835.9C322.8,833 316.1,830 310.6,827.4C305.1,824.7 300.1,822.5 296,820.1C291.9,817.7 288.6,815.4 286.3,812.8C283.9,810.2 282.3,807.5 282,804.3Z" fill="#b8b9c0"/>
<g clip-path="url(#bc1)">
<path d="M334.8,737.2C335,736.2 339.6,732.6 340.8,732.4C342,732.2 345.6,734.1 346.8,734.8C348,735.5 352.1,738.6 352.8,739.6C353.5,740.6 354.8,743.8 354,744.4C353.2,745 346,745.8 344.4,745.6C342.8,745.4 339.4,742.8 338.4,742C337.4,741.2 334.6,738.2 334.8,737.2Z" fill="#dcb9ee" stroke="#5b4a66" stroke-width="0.7"/>
<path d="M309.6,760C310.7,757.6 321.1,742.1 322.8,739.6C324.5,737.1 326.3,734.3 326.4,734.8C326.5,735.3 325.4,741.5 324,744.4C322.6,747.3 313.4,762 312,763.6C310.6,765.2 308.5,762.4 309.6,760Z" fill="#dcb9ee" stroke="#5b4a66" stroke-width="0.7"/>
<path d="M399.6,728.8C400,728.2 403.8,725.5 405.6,725.2C407.4,724.9 415.2,725.3 417.6,725.8C420,726.3 428.3,729.1 429.6,730C430.9,730.9 431.8,734.4 430.8,734.8C429.8,735.2 421.9,733.8 420,733.6C418.1,733.4 413.4,732.6 411.6,732.4C409.8,732.2 403.2,731.6 402,731.2C400.8,730.8 399.2,729.4 399.6,728.8Z" fill="#dcb9ee" stroke="#5b4a66" stroke-width="0.7"/>
<path d="M415.8,745.6C416.5,744.5 423.3,743.6 424.8,744.4C426.3,745.2 429.2,752.7 430.8,754C432.4,755.3 439.1,756.3 440.4,757.6C441.7,758.9 443.8,765.5 444,767.2C444.2,768.9 442.2,773 442.8,774.4C443.4,775.8 448.9,779.9 450,781.6C451.1,783.3 453.8,790.1 453.6,791.2C453.4,792.3 449.2,792.6 447.6,792.4C446,792.2 440,789.6 438,788.8C436,788 429.1,785 427.2,784C425.3,783 419.9,780.4 418.8,779.2C417.7,778 416.3,773.4 416.4,772C416.5,770.6 419.9,766.5 420,764.8C420.1,763.1 418,757.1 417.6,755.2C417.2,753.3 415.1,746.7 415.8,745.6Z" fill="#dcb9ee" stroke="#5b4a66" stroke-width="0.7"/>
<path d="M474,776.8C475.2,776.1 480.7,782.3 481.2,784C481.7,785.7 479.3,791.9 478.8,793.6C478.3,795.3 476.4,799.4 476.4,800.8C476.4,802.2 478.8,806.3 478.8,808C478.8,809.7 477.1,816.5 476.4,817.6C475.7,818.7 472.3,818.3 471.6,818.8C470.9,819.3 470.6,821.6 469.2,822.4C467.8,823.2 458.8,826.4 457.2,827.2C455.6,828 455.8,830 453.6,830.8C451.4,831.6 437.2,835.7 435.6,835.6C434,835.5 436.3,830.7 438,829.6C439.7,828.5 450.5,826.2 452.4,824.8C454.3,823.4 456.5,817.1 457.2,815.2C457.9,813.3 459.6,807.2 459.6,805.6C459.6,804 458.8,800.6 457.2,799.6C455.6,798.6 445,796.7 444,796C443,795.3 446.3,792.5 447.6,792.4C448.9,792.3 455.5,794.2 457.2,794.8C458.9,795.4 463.2,798.8 464.4,798.4C465.6,798 468.2,793.4 469.2,791.2C470.2,789 472.8,777.5 474,776.8Z" fill="#dcb9ee" stroke="#5b4a66" stroke-width="0.7"/>
<path d="M339.6,791.2C340.7,790.4 343.2,788.4 344.4,788.8C345.6,789.2 349.9,793.8 351.6,794.8C353.3,795.8 359.9,797.3 361.2,798.4C362.5,799.5 363.7,804.4 364.8,805.6C365.9,806.8 370.7,809.6 372,810.4C373.3,811.2 376.7,813.8 378,814C379.3,814.2 383.8,812.3 385.2,812.8C386.6,813.3 391,817.6 392.4,818.8C393.8,820 398.6,823.6 399.6,824.8C400.6,826 402.8,830.6 402,830.8C401.2,831 392.9,827.2 391.2,827.2C389.5,827.2 386.9,830.8 385.2,830.8C383.5,830.8 376,828 374.4,827.2C372.8,826.4 370.9,823 369.6,822.4C368.3,821.8 362.8,821.2 361.2,821.2C359.6,821.2 355.7,822.6 354,822.4C352.3,822.2 346.1,819.8 344.4,818.8C342.7,817.8 338.4,812.6 337.2,812.8C336,813 333.4,820 332.4,821.2C331.4,822.4 328.9,825.3 327.6,824.8C326.3,824.3 319,818.1 319.2,816.4C319.4,814.7 328.6,809.9 330,808C331.4,806.1 332.6,798.9 333.6,797.2C334.6,795.5 338.5,792 339.6,791.2Z" fill="#dcb9ee" stroke="#5b4a66" stroke-width="0.7"/>
<use href="#parc" transform="translate(282,715) scale(0.21000,0.14760)"/>
</g>
<path d="M282,804.3C281.7,801 282.9,797.2 284.4,793.4C286,789.5 288.4,785.3 291.1,781.2C293.9,777.2 297.6,773.3 300.9,769.1C304.1,764.8 307.4,759.9 310.6,755.7C313.9,751.4 317.7,747.2 320.3,743.5C323,739.9 323.8,737.1 326.4,733.8C329.1,730.6 332.1,726.8 336.2,724.1C340.2,721.4 345.9,718.9 350.8,717.4C355.7,715.9 359.9,715.1 365.4,715C370.9,714.9 377.6,715.8 383.7,716.8C389.7,717.8 395.8,719.6 401.9,721.1C408,722.6 414.1,723.8 420.2,725.9C426.3,728.1 432.8,730.7 438.4,733.8C444.1,737 449.2,740.5 454.3,744.8C459.3,749 464.6,754.5 468.9,759.3C473.1,764.2 476.8,769.3 479.8,773.9C482.9,778.6 485.2,782.8 487.1,787.3C489.1,791.7 490.6,796.8 491.4,800.6C492.2,804.5 492.3,807.3 492,810.4C491.7,813.4 491.2,816.4 489.6,818.9C487.9,821.3 485.7,823.2 482.3,824.9C478.8,826.7 474.1,828.2 468.9,829.2C463.6,830.2 455.7,830.3 450.6,831C445.5,831.7 441.7,832.2 438.4,833.4C435.2,834.7 433,836.5 431.1,838.3C429.3,840.1 428.7,841.9 427.5,844.4C426.3,846.8 425.4,850.5 423.8,852.9C422.2,855.3 420.4,857.3 417.7,859C415.1,860.6 411.7,862 408,862.6C404.3,863.2 400.3,863.2 395.8,862.6C391.4,862 386.3,860.6 381.2,859C376.1,857.3 371.1,855.3 365.4,852.9C359.7,850.5 353.2,847.2 347.1,844.4C341,841.5 335,838.7 328.9,835.9C322.8,833 316.1,830 310.6,827.4C305.1,824.7 300.1,822.5 296,820.1C291.9,817.7 288.6,815.4 286.3,812.8C283.9,810.2 282.3,807.5 282,804.3Z" fill="none" stroke="#4b4d59" stroke-width="0.8" stroke-opacity="0.8"/>
<clipPath id="bc2"><path d="M519.2,803.7C518.9,800.5 520.1,796.7 521.6,793C523,789.2 525.4,785 528.1,781.1C530.7,777.1 534.4,773.3 537.5,769.2C540.7,765 543.8,760.2 547,756.1C550.1,751.9 553.9,747.7 556.5,744.2C559,740.6 559.8,737.8 562.4,734.6C564.9,731.5 567.9,727.8 571.8,725.1C575.8,722.4 581.3,720.1 586,718.6C590.7,717.1 594.9,716.3 600.2,716.2C605.5,716.1 612,717 617.9,718C623.9,719 629.8,720.7 635.7,722.2C641.6,723.6 647.5,724.8 653.4,726.9C659.3,729 665.6,731.6 671.2,734.6C676.7,737.7 681.6,741.2 686.5,745.4C691.5,749.5 696.6,754.9 700.7,759.6C704.9,764.4 708.4,769.4 711.4,773.9C714.3,778.5 716.6,782.6 718.5,787C720.3,791.4 721.8,796.3 722.6,800.1C723.4,803.9 723.5,806.6 723.2,809.6C722.9,812.6 722.4,815.6 720.8,818C719.3,820.3 717.1,822.2 713.7,823.9C710.4,825.6 705.9,827.1 700.7,828.1C695.6,829.1 687.9,829.2 683,829.9C678.1,830.6 674.3,831 671.2,832.2C668,833.4 665.8,835.2 664.1,837C662.3,838.8 661.7,840.6 660.5,842.9C659.3,845.3 658.6,848.9 657,851.3C655.4,853.7 653.6,855.6 651.1,857.2C648.5,858.8 645.1,860.2 641.6,860.8C638.1,861.4 634.1,861.4 629.8,860.8C625.4,860.2 620.5,858.8 615.6,857.2C610.7,855.6 605.7,853.7 600.2,851.3C594.7,848.9 588.4,845.7 582.5,842.9C576.6,840.2 570.6,837.4 564.7,834.6C558.8,831.8 552.3,828.9 547,826.3C541.7,823.7 536.7,821.5 532.8,819.1C528.9,816.8 525.6,814.6 523.3,812C521.1,809.4 519.5,806.8 519.2,803.7Z"/></clipPath>
<path d="M519.2,803.7C518.9,800.5 520.1,796.7 521.6,793C523,789.2 525.4,785 528.1,781.1C530.7,777.1 534.4,773.3 537.5,769.2C540.7,765 543.8,760.2 547,756.1C550.1,751.9 553.9,747.7 556.5,744.2C559,740.6 559.8,737.8 562.4,734.6C564.9,731.5 567.9,727.8 571.8,725.1C575.8,722.4 581.3,720.1 586,718.6C590.7,717.1 594.9,716.3 600.2,716.2C605.5,716.1 612,717 617.9,718C623.9,719 629.8,720.7 635.7,722.2C641.6,723.6 647.5,724.8 653.4,726.9C659.3,729 665.6,731.6 671.2,734.6C676.7,737.7 681.6,741.2 686.5,745.4C691.5,749.5 696.6,754.9 700.7,759.6C704.9,764.4 708.4,769.4 711.4,773.9C714.3,778.5 716.6,782.6 718.5,787C720.3,791.4 721.8,796.3 722.6,800.1C723.4,803.9 723.5,806.6 723.2,809.6C722.9,812.6 722.4,815.6 720.8,818C719.3,820.3 717.1,822.2 713.7,823.9C710.4,825.6 705.9,827.1 700.7,828.1C695.6,829.1 687.9,829.2 683,829.9C678.1,830.6 674.3,831 671.2,832.2C668,833.4 665.8,835.2 664.1,837C662.3,838.8 661.7,840.6 660.5,842.9C659.3,845.3 658.6,848.9 657,851.3C655.4,853.7 653.6,855.6 651.1,857.2C648.5,858.8 645.1,860.2 641.6,860.8C638.1,861.4 634.1,861.4 629.8,860.8C625.4,860.2 620.5,858.8 615.6,857.2C610.7,855.6 605.7,853.7 600.2,851.3C594.7,848.9 588.4,845.7 582.5,842.9C576.6,840.2 570.6,837.4 564.7,834.6C558.8,831.8 552.3,828.9 547,826.3C541.7,823.7 536.7,821.5 532.8,819.1C528.9,816.8 525.6,814.6 523.3,812C521.1,809.4 519.5,806.8 519.2,803.7Z" fill="#b8b9c0"/>
<g clip-path="url(#bc2)">
<path d="M537.2,776.8C537.9,774.3 543.7,763 545.6,760C547.5,757 554.5,748.8 556.4,746.8C558.3,744.8 563.4,740.7 564.8,740.2C566.2,739.7 570,740.9 570.8,741.4C571.6,741.9 572.1,745.1 573.2,745.6C574.3,746.1 579.6,746.3 581.6,746.2C583.6,746.1 591.9,744.5 593.6,744.4C595.3,744.3 599,745 598.4,745.6C597.8,746.2 589.6,749.6 587.6,750.4C585.6,751.2 579.2,753.3 578,754C576.8,754.7 575.6,756.3 575.6,757.6C575.6,758.9 577.7,765.2 578,767.2C578.3,769.2 578.8,776.1 578.6,778C578.4,779.9 576.1,785 575.6,786.4C575.1,787.8 574,791.9 573.2,792.4C572.4,792.9 568.5,791.8 567.2,791.2C565.9,790.6 561.2,787 560,786.4C558.8,785.8 556.4,785.1 555.2,785.2C554,785.3 549.3,787.1 548,787.6C546.7,788.1 542.9,790.2 542,790C541.1,789.8 539.5,786.5 539,785.2C538.5,783.9 536.5,779.3 537.2,776.8Z" fill="#8530b0" stroke="#3a1550" stroke-width="0.7"/>
<path d="M654.8,740.8C655.2,740 659.7,738.2 660.8,737.2C661.9,736.2 664.3,731.4 665.6,731.2C666.9,731 671.8,733.6 674,734.8C676.2,736 684.7,741.4 687.2,743.2C689.7,745 697.3,751.1 699.2,752.8C701.1,754.5 706.5,759.2 706.4,760C706.3,760.8 698.6,760.4 698,761.2C697.4,762 699.8,766.8 700.4,768.4C701,770 703.8,775 704,776.8C704.2,778.6 703.4,784.6 702.8,786.4C702.2,788.2 698.7,793.8 698,794.8C697.3,795.8 696.9,796.6 695.6,796C694.3,795.4 686,790.2 684.8,788.8C683.6,787.4 684.2,782.7 683.6,781.6C683,780.5 679.6,778.8 678.8,778C678,777.2 675.3,774.5 675.2,773.2C675.1,771.9 677.1,766.1 677.6,764.8C678.1,763.5 680.5,761 680,760C679.5,759 674.4,756.2 672.8,755.2C671.2,754.2 666,751.4 664.4,750.4C662.8,749.4 658.2,746.6 657.2,745.6C656.2,744.6 654.4,741.6 654.8,740.8Z" fill="#8530b0" stroke="#3a1550" stroke-width="0.7"/>
<path d="M711.2,787.6C712.4,787.1 717.2,788.4 718.4,790C719.6,791.6 722.8,800.9 723.2,803.2C723.6,805.5 722.7,811.2 722,812.8C721.3,814.4 717.3,818 716,818.8C714.7,819.6 709.6,821.6 708.8,821.2C708,820.8 707.5,816.5 707.6,815.2C707.7,813.9 710,809.3 710,808C710,806.7 708,803.3 707.6,802C707.2,800.7 706,796.2 706.4,794.8C706.8,793.4 710,788.1 711.2,787.6Z" fill="#8530b0" stroke="#3a1550" stroke-width="0.7"/>
<path d="M570.8,815.2C571.8,815.2 575.5,818.1 576.8,818.8C578.1,819.5 582.3,822.2 584,822.4C585.7,822.6 591.9,821 593.6,821.2C595.3,821.4 599.4,824 600.8,824.8C602.2,825.6 606.8,828.8 608,829.6C609.2,830.4 611.6,833.2 612.8,833.2C614,833.2 618.6,830.1 620,829.6C621.4,829.1 625.9,828.3 627.2,828.4C628.5,828.5 632.4,830.9 633.2,830.8C634,830.7 634.8,826.7 635.6,827.2C636.4,827.7 640.8,833.9 641.6,835.6C642.4,837.3 644.1,842.3 644,844C643.9,845.7 641.6,851.9 640.4,852.4C639.2,852.9 633.7,849 632,848.8C630.3,848.6 625.3,849.8 623.6,850C621.9,850.2 616.8,851.7 615.2,851.2C613.6,850.7 608.8,846.5 608,845.2C607.2,843.9 607.6,839.2 606.8,838C606,836.8 601,833.8 599.6,833.2C598.2,832.6 593.4,831.3 592.4,832C591.4,832.7 591,839.8 590,840.4C589,841 584.6,839.1 582.8,838C581,836.9 573.8,830.9 572,829.6C570.2,828.3 565.3,825.9 564.8,824.8C564.3,823.7 566.6,819.8 567.2,818.8C567.8,817.8 569.8,815.2 570.8,815.2Z" fill="#8530b0" stroke="#3a1550" stroke-width="0.7"/>
<use href="#parc" transform="translate(519.2,716.2) scale(0.20400,0.14460)"/>
</g>
<path d="M519.2,803.7C518.9,800.5 520.1,796.7 521.6,793C523,789.2 525.4,785 528.1,781.1C530.7,777.1 534.4,773.3 537.5,769.2C540.7,765 543.8,760.2 547,756.1C550.1,751.9 553.9,747.7 556.5,744.2C559,740.6 559.8,737.8 562.4,734.6C564.9,731.5 567.9,727.8 571.8,725.1C575.8,722.4 581.3,720.1 586,718.6C590.7,717.1 594.9,716.3 600.2,716.2C605.5,716.1 612,717 617.9,718C623.9,719 629.8,720.7 635.7,722.2C641.6,723.6 647.5,724.8 653.4,726.9C659.3,729 665.6,731.6 671.2,734.6C676.7,737.7 681.6,741.2 686.5,745.4C691.5,749.5 696.6,754.9 700.7,759.6C704.9,764.4 708.4,769.4 711.4,773.9C714.3,778.5 716.6,782.6 718.5,787C720.3,791.4 721.8,796.3 722.6,800.1C723.4,803.9 723.5,806.6 723.2,809.6C722.9,812.6 722.4,815.6 720.8,818C719.3,820.3 717.1,822.2 713.7,823.9C710.4,825.6 705.9,827.1 700.7,828.1C695.6,829.1 687.9,829.2 683,829.9C678.1,830.6 674.3,831 671.2,832.2C668,833.4 665.8,835.2 664.1,837C662.3,838.8 661.7,840.6 660.5,842.9C659.3,845.3 658.6,848.9 657,851.3C655.4,853.7 653.6,855.6 651.1,857.2C648.5,858.8 645.1,860.2 641.6,860.8C638.1,861.4 634.1,861.4 629.8,860.8C625.4,860.2 620.5,858.8 615.6,857.2C610.7,855.6 605.7,853.7 600.2,851.3C594.7,848.9 588.4,845.7 582.5,842.9C576.6,840.2 570.6,837.4 564.7,834.6C558.8,831.8 552.3,828.9 547,826.3C541.7,823.7 536.7,821.5 532.8,819.1C528.9,816.8 525.6,814.6 523.3,812C521.1,809.4 519.5,806.8 519.2,803.7Z" fill="none" stroke="#4b4d59" stroke-width="0.8" stroke-opacity="0.8"/>
<path d="M947.2,825.8L947.2,787.6Q947.2,778.4 938.5,778.4L926,778.4Q909,778.4 906.6,758L902.3,713.6L884.5,708.8Q874.3,706 879.3,696.4L904.6,652.3C904.9,649.3 905.2,640.5 906.2,634.2C907.2,627.9 908.5,620.9 910.5,614.4C912.5,607.9 915,601.2 918.2,595.2C921.4,589.2 925.5,583.4 930,578.5C934.6,573.6 939.9,569.3 945.6,565.8C951.3,562.3 957.6,559.6 964.2,557.5C970.7,555.4 977.7,553.9 985,553.1C992.3,552.3 1000.1,551.9 1008.1,552.5C1016,553.1 1024.8,554.5 1032.8,556.9C1040.7,559.2 1048.8,562.8 1055.8,566.8C1062.8,570.8 1069.1,575.8 1074.8,581C1080.6,586.2 1085.8,592.1 1090.3,598.1C1094.8,604.1 1098.8,610.7 1101.9,617.1C1105,623.6 1107.3,630.4 1109,636.9C1110.8,643.4 1111.7,650 1112.3,656C1112.8,661.9 1112.7,667.5 1112.3,672.5C1112,677.6 1111.2,681.7 1110.1,686.4C1108.9,691 1107.6,695.5 1105.5,700.6C1103.5,705.6 1100.9,711.4 1097.7,716.8C1094.4,722.1 1090.4,727.7 1086.3,732.9C1082.1,738 1076.8,743.1 1072.8,747.9C1068.8,752.7 1064.9,757.1 1062.3,761.9C1059.7,766.7 1058.2,771 1057,776.6C1055.8,782.2 1055.2,792.4 1054.9,795.5L1054.9,825.8Z" fill="none" stroke="#000" stroke-width="13" stroke-linejoin="miter"/>
<path d="M956.8,605.7L986.5,600.1L1017.9,596.9L1047.9,602.5L1069.3,617.8L1075.7,640.2L1068.2,665.9L1045.2,684.4L1017.9,678.8L989,670.8L960.8,661.9L940.8,644.3L942.9,622.6Z" fill="#000"/>
<g fill="#000">
<circle cx="956.8" cy="605.7" r="12.2"/>
<circle cx="986.5" cy="600.1" r="15.4"/>
<circle cx="1017.9" cy="596.9" r="15.4"/>
<circle cx="1047.9" cy="602.5" r="14.9"/>
<circle cx="1069.3" cy="617.8" r="10.6"/>
<circle cx="1075.7" cy="640.2" r="11.4"/>
<circle cx="1068.2" cy="665.9" r="11.9"/>
<circle cx="1045.2" cy="684.4" r="16.2"/>
<circle cx="1017.9" cy="678.8" r="16.2"/>
<circle cx="989" cy="670.8" r="15.4"/>
<circle cx="960.8" cy="661.9" r="15.4"/>
<circle cx="940.8" cy="644.3" r="14.9"/>
<circle cx="942.9" cy="622.6" r="13"/>
</g>
<g fill="none" stroke="#fff" stroke-width="3" stroke-linecap="round">
<path d="M966,589.6C966.2,591.4 966.3,592.6 966.9,596.1C967.6,599.5 968.1,600.8 968.6,602.5"/>
<path d="M1003.9,584.8C1004.1,587 1004.1,588.4 1004.5,592.9C1005,597.3 1005.2,599.3 1005.5,601.7"/>
<path d="M1034.4,589.6C1034.3,591.1 1034.4,592.5 1033.9,595.3C1033.5,598 1033.1,598.8 1032.8,600.1"/>
<path d="M1058.8,610.5C1059.6,609.8 1060.2,609.3 1061.7,607.6C1063.2,605.9 1063.7,605 1064.5,604.1"/>
<path d="M972.9,614.5C974.6,613.3 975.7,611.6 979.3,609.7C983,607.8 982.5,608 986.5,607.3C990.6,606.6 990.7,606.7 994.6,607C998.4,607.2 999.3,607.9 1001,608.3"/>
<path d="M1019.5,600.9C1019.9,602.8 1019.6,604.7 1021.1,608.1C1022.6,611.5 1022.3,611.2 1025.1,613.7C1027.9,616.3 1028.1,616.3 1031.5,617.8C1035,619.3 1034.3,618.9 1038,619.4C1041.6,619.8 1043.3,619.4 1045.2,619.4"/>
<path d="M1026.7,615.7C1026.1,616.6 1026,617.4 1024.3,619.4C1022.6,621.3 1022.6,621.3 1020.3,623.1C1017.9,624.8 1016.7,625.1 1015.5,625.8"/>
<path d="M948,626.6C949.3,627.9 949.4,629.3 952.8,631.4C956.2,633.5 955.3,634.1 960.8,634.6C966.4,635.1 967.7,635 973.7,633.3C979.7,631.6 978.6,630.2 983.3,628.2C988,626.2 986.7,625.9 991.4,625.8C996.1,625.7 996.3,625.7 1001,627.9C1005.7,630 1004.8,630.5 1009,633.8C1013.3,637.1 1012.8,637.5 1017.1,640.2C1021.4,642.9 1020.8,642.7 1025.1,643.9C1029.4,645.2 1028.8,644.9 1033.1,645.1C1037.4,645.2 1039,644.7 1041.2,644.6"/>
<path d="M959.2,635.4C958.6,636.7 958,637.7 956.8,640.2C955.6,642.8 955.8,642.3 954.7,645.1C953.7,647.8 953.3,649.2 952.8,650.7"/>
<path d="M980.1,631.7C979.2,633.1 977.9,633.9 976.6,637C975.3,640.2 975.2,639.8 975.3,643.5C975.4,647.1 976.5,648.8 976.9,650.7"/>
<path d="M1036.3,635.4C1037.6,636.1 1039.3,635.9 1041.2,637.8C1043,639.8 1042.6,639.7 1043.3,642.7C1043.9,645.6 1043.5,647.4 1043.6,649.1"/>
<path d="M1053.2,626.6C1054.7,627.4 1056.1,627.4 1058.8,629.8C1061.5,632.2 1061.6,631.6 1063.3,635.4C1065,639.3 1065.1,640.2 1065.3,644.3C1065.4,648.3 1064.9,647.8 1064,650.7C1063,653.6 1062.3,654 1061.7,655.2"/>
<path d="M1001.8,645.9C1002.2,647.6 1001.9,648.6 1003.4,652.3C1004.9,655.9 1004.4,656.2 1007.4,659.5C1010.4,662.9 1010.8,662.8 1014.7,664.8C1018.5,666.8 1018.2,666.3 1021.9,667.1C1025.5,667.8 1026.6,667.4 1028.3,667.6"/>
<path d="M1017.1,665.9C1017.4,667 1018.3,667.4 1018.4,670C1018.4,672.5 1018.6,672.8 1017.4,675.6C1016.2,678.4 1014.8,679.1 1013.9,680.4"/>
<path d="M1049.2,658.7C1049.6,660 1049.3,660.5 1050.8,663.5C1052.3,666.5 1052.2,666.5 1054.8,670C1057.4,673.4 1058.9,674.7 1060.4,676.4"/>
<path d="M925.5,636.2C927.2,637 928.3,637.5 931.9,639.1C935.6,640.7 937.2,641.5 939.2,642.3"/>
<path d="M933.5,661.1C934.8,660.4 935.6,660 938.4,658.4C941.1,656.8 942.5,656 944,655.2"/>
<path d="M974.5,674.8C975.1,673.5 975.8,672.3 976.9,670C978,667.6 978.1,667 978.5,665.9"/>
<path d="M998.6,678C999,677.1 999.6,676.7 1000.2,674.8C1000.8,672.9 1000.8,671.8 1001,670.8"/>
<path d="M1036.3,678C1035.8,679.7 1035.5,680.8 1034.4,684.4C1033.3,688.1 1032.9,689.7 1032.3,691.6"/>
<path d="M1073.3,629C1074.4,628.7 1075,628.7 1077.3,627.9C1079.7,627 1080.8,626.3 1082.1,625.8"/>
<path d="M1071.7,656.8C1072.8,657.1 1073.3,657.5 1075.7,658.1C1078.1,658.7 1079.2,658.8 1080.5,659"/>
</g>
<g fill="none" stroke="#0d2535" stroke-width="5.3" stroke-linejoin="round">
<path d="M1288.0,653.0L1292.2,652.8L1296.4,652.4L1300.5,652.0L1304.7,651.5L1308.9,651.0L1313.1,650.4L1317.3,649.7L1321.5,648.9L1325.7,648.0L1329.9,646.9L1334.1,645.7L1338.3,644.4L1342.5,642.9L1346.7,641.3L1350.9,639.4L1355.2,637.3L1359.4,635.0L1363.7,632.4L1367.9,629.5L1372.2,626.3L1376.5,622.8L1380.8,618.8L1385.1,614.5L1389.4,609.8L1393.7,604.5L1398.1,598.8L1402.5,592.6L1406.9,585.8L1411.3,578.5L1415.7,570.7L1420.1,562.2L1424.6,553.2L1429.1,543.7L1433.6,533.6L1438.1,523.1L1442.6,512.3L1447.1,501.1L1451.7,489.7L1456.2,478.3L1460.8,467.0L1465.3,456.0L1469.8,445.4L1474.3,435.5L1478.8,426.4L1483.2,418.3L1487.6,411.5L1491.9,406.1L1496.2,402.2L1500.5,400.0L1504.7,399.4L1508.8,400.8L1512.8,403.9L1516.8,408.8L1520.8,415.3L1524.7,423.2L1528.6,432.3L1532.4,442.4L1536.2,453.4L1540.0,464.9L1543.8,476.8L1547.5,488.8L1551.3,500.9L1555.1,512.8L1558.8,524.4L1562.6,535.7L1566.4,546.4L1570.3,556.7L1574.1,566.4L1578.0,575.4L1581.9,583.9L1585.8,591.8L1589.7,599.1L1593.6,605.8L1597.6,611.9L1601.6,617.6L1605.6,622.7L1609.6,627.4L1613.6,631.7L1617.7,635.6L1621.7,639.1L1625.8,642.3L1629.8,645.2L1633.9,647.8L1638.0,650.1L1642.1,652.2L1646.2,654.2L1650.3,655.9L1654.4,657.5L1658.5,658.9L1662.7,660.2L1666.8,661.3L1670.9,662.4L1675.1,663.3L1679.2,664.2L1683.3,665.0L1687.5,665.7L1691.6,666.4L1695.8,667.0L1699.9,667.5L1704.1,668.0L1708.2,668.5L1712.4,668.9L1716.5,669.3L1720.7,669.7L1724.8,670.1L1729.0,670.4L1733.1,670.7L1737.3,671.0L1741.4,671.2L1745.6,671.5" stroke-dasharray="18 14.5"/>
<path d="M1404.8,657.0L1409.1,656.8L1413.3,656.5L1417.6,656.1L1421.9,655.7L1426.2,655.1L1430.5,654.5L1434.8,653.9L1439.0,653.1L1443.3,652.2L1447.6,651.1L1451.9,649.9L1456.3,648.6L1460.6,647.1L1464.9,645.3L1469.3,643.4L1473.6,641.2L1478.0,638.7L1482.3,635.9L1486.7,632.7L1491.1,629.3L1495.5,625.4L1500.0,621.0L1504.4,616.2L1508.9,610.9L1513.4,605.1L1517.9,598.6L1522.4,591.6L1527.0,584.0L1531.6,575.7L1536.2,566.8L1540.8,557.3L1545.5,547.2L1550.2,536.6L1554.9,525.4L1559.6,513.9L1564.3,502.1L1569.0,490.1L1573.8,478.2L1578.5,466.5L1583.2,455.2L1587.9,444.5L1592.5,434.6L1597.1,425.8L1601.7,418.2L1606.2,412.1L1610.6,407.6L1615.0,404.7L1619.3,403.6L1623.6,404.0L1627.7,406.2L1631.9,410.0L1635.9,415.5L1639.9,422.5L1643.8,430.8L1647.7,440.3L1651.5,450.9L1655.4,462.1L1659.2,473.9L1662.9,486.0L1666.7,498.3L1670.5,510.5L1674.3,522.4L1678.1,534.1L1681.9,545.3L1685.7,556.0L1689.6,566.2L1693.5,575.7L1697.4,584.6L1701.3,592.9L1705.3,600.6L1709.3,607.6L1713.3,614.1L1717.3,620.0L1721.4,625.3L1725.4,630.2L1729.5,634.7L1733.6,638.7L1737.7,642.3L1741.9,645.5L1746.0,648.5L1750.2,651.1L1754.3,653.5L1758.5,655.7L1762.7,657.6L1766.9,659.3L1771.1,660.9L1775.3,662.3L1779.5,663.5L1783.7,664.7L1787.9,665.7L1792.2,666.6L1796.4,667.4L1800.6,668.2L1804.9,668.9L1809.1,669.5L1813.3,670.1L1817.6,670.6L1821.8,671.1L1826.1,671.5L1830.3,671.9L1834.5,672.3L1838.8,672.6L1843.0,672.9L1847.3,673.2L1851.5,673.5L1855.8,673.8L1860.0,674.0L1864.3,674.3L1868.5,674.5L1872.8,674.7" stroke-dasharray="4.7 4.7"/>
<path d="M1340.0,654.2L1344.3,653.9L1348.5,653.6L1352.8,653.3L1357.1,652.8L1361.3,652.3L1365.6,651.8L1369.9,651.1L1374.2,650.3L1378.5,649.4L1382.8,648.4L1387.1,647.2L1391.4,645.9L1395.7,644.4L1400.0,642.7L1404.3,640.7L1408.6,638.5L1413.0,636.1L1417.4,633.3L1421.7,630.2L1426.1,626.8L1430.5,622.9L1434.9,618.6L1439.4,613.9L1443.8,608.6L1448.3,602.8L1452.8,596.4L1457.3,589.5L1461.8,581.9L1466.4,573.7L1471.0,564.9L1475.6,555.4L1480.2,545.4L1484.9,534.8L1489.5,523.7L1494.2,512.2L1498.9,500.5L1503.6,488.5L1508.3,476.6L1513.0,464.9L1517.7,453.5L1522.3,442.8L1527.0,432.9L1531.6,424.0L1536.1,416.4L1540.6,410.3L1545.0,405.7L1549.4,402.8L1553.7,401.6L1557.9,402.1L1562.1,404.4L1566.2,408.3L1570.2,413.9L1574.2,420.9L1578.1,429.4L1582.0,439.0L1585.9,449.5L1589.7,460.8L1593.5,472.6L1597.3,484.7L1601.1,496.9L1604.9,509.0L1608.7,521.0L1612.6,532.6L1616.4,543.7L1620.2,554.4L1624.1,564.5L1628.0,574.0L1631.9,582.8L1635.9,591.0L1639.8,598.7L1643.8,605.7L1647.9,612.1L1651.9,618.0L1655.9,623.3L1660.0,628.2L1664.1,632.6L1668.2,636.6L1672.3,640.2L1676.4,643.5L1680.6,646.5L1684.7,649.1L1688.9,651.5L1693.1,653.7L1697.3,655.6L1701.5,657.3L1705.6,658.9L1709.8,660.3L1714.1,661.6L1718.3,662.8L1722.5,663.8L1726.7,664.7L1730.9,665.6L1735.1,666.4L1739.4,667.1L1743.6,667.7L1747.8,668.3L1752.1,668.8L1756.3,669.3L1760.5,669.8L1764.8,670.2L1769.0,670.6L1773.3,671.0L1777.5,671.3L1781.7,671.6L1786.0,671.9L1790.2,672.2L1794.5,672.4L1798.7,672.7L1803.0,672.9L1807.2,673.2"/>
<path d="M833.8,1349.8L837.4,1349.7L841.0,1349.5L844.6,1349.3L848.3,1349.1L851.9,1348.9L855.5,1348.6L859.1,1348.2L862.7,1347.9L866.4,1347.4L870.0,1347.0L873.6,1346.4L877.3,1345.8L880.9,1345.2L884.5,1344.4L888.2,1343.6L891.8,1342.7L895.5,1341.7L899.2,1340.5L902.8,1339.3L906.5,1337.9L910.2,1336.3L913.9,1334.6L917.6,1332.7L921.3,1330.7L925.0,1328.4L928.7,1325.9L932.4,1323.1L936.2,1320.1L939.9,1316.9L943.7,1313.3L947.5,1309.4L951.3,1305.1L955.1,1300.6L959.0,1295.6L962.9,1290.3L966.7,1284.6L970.6,1278.4L974.5,1271.9L978.5,1265.1L982.4,1257.8L986.4,1250.2L990.4,1242.3L994.4,1234.2L998.4,1225.9L1002.4,1217.5L1006.4,1209.0L1010.4,1200.7L1014.4,1192.6L1018.4,1184.8L1022.3,1177.6L1026.2,1171.0L1030.1,1165.2L1034.0,1160.4L1037.7,1156.7L1041.5,1154.2L1045.1,1153.3L1048.7,1154.3L1052.2,1156.9L1055.6,1161.0L1058.9,1166.3L1062.2,1172.8L1065.5,1180.0L1068.7,1188.0L1071.9,1196.5L1075.1,1205.4L1078.3,1214.4L1081.4,1223.5L1084.6,1232.5L1087.8,1241.4L1091.0,1250.0L1094.2,1258.3L1097.4,1266.3L1100.7,1273.8L1103.9,1280.9L1107.2,1287.6L1110.5,1293.8L1113.9,1299.6L1117.2,1305.0L1120.6,1309.9L1124.0,1314.5L1127.4,1318.7L1130.8,1322.6L1134.2,1326.1L1137.7,1329.3L1141.1,1332.3L1144.6,1335.0L1148.1,1337.4L1151.6,1339.7L1155.1,1341.7L1158.6,1343.5L1162.2,1345.2L1165.7,1346.7L1169.2,1348.1L1172.8,1349.4L1176.3,1350.5L1179.9,1351.6L1183.5,1352.5L1187.0,1353.4L1190.6,1354.2L1194.2,1354.9L1197.7,1355.5L1201.3,1356.1L1204.9,1356.7L1208.5,1357.2L1212.1,1357.6L1215.6,1358.1L1219.2,1358.5L1222.8,1358.8L1226.4,1359.1L1230.0,1359.5" stroke-dasharray="18 14.5"/>
<path d="M833.8,1350.1L838.0,1348.8L842.3,1347.5L846.5,1346.0L850.7,1344.4L855.0,1342.7L859.2,1340.8L863.4,1338.8L867.6,1336.7L871.9,1334.3L876.1,1331.8L880.3,1329.1L884.5,1326.1L888.7,1323.0L892.9,1319.6L897.2,1315.9L901.4,1312.0L905.6,1307.8L909.8,1303.3L914.0,1298.5L918.2,1293.4L922.4,1288.0L926.6,1282.2L930.8,1276.0L934.9,1269.5L939.1,1262.7L943.3,1255.4L947.5,1247.8L951.7,1239.9L955.8,1231.6L960.0,1222.9L964.2,1214.0L968.3,1204.7L972.5,1195.3L976.7,1185.6L980.8,1175.7L985.0,1165.8L989.1,1155.8L993.3,1145.9L997.5,1136.1L1001.6,1126.5L1005.8,1117.3L1010.0,1108.5L1014.1,1100.2L1018.3,1092.5L1022.5,1085.6L1026.7,1079.6L1030.9,1074.5L1035.1,1070.5L1039.3,1067.7L1043.5,1066.1L1047.8,1065.9L1052.0,1067.5L1056.3,1070.4L1060.6,1074.6L1064.9,1080.1L1069.2,1086.6L1073.5,1094.0L1077.8,1102.3L1082.1,1111.3L1086.4,1120.8L1090.8,1130.8L1095.1,1141.1L1099.4,1151.6L1103.8,1162.2L1108.1,1172.9L1112.4,1183.5L1116.8,1193.9L1121.1,1204.1L1125.4,1214.1L1129.7,1223.7L1134.1,1233.0L1138.4,1242.0L1142.7,1250.5L1147.0,1258.7L1151.3,1266.5L1155.6,1273.8L1159.9,1280.8L1164.2,1287.3L1168.5,1293.5L1172.8,1299.2L1177.1,1304.7L1181.4,1309.7L1185.7,1314.5L1190.0,1318.9L1194.2,1323.0L1198.5,1326.8L1202.8,1330.4L1207.1,1333.7L1211.3,1336.8L1215.6,1339.6L1219.9,1342.3L1224.1,1344.7L1228.4,1347.0L1232.7,1349.1L1236.9,1351.0L1241.2,1352.8L1245.4,1354.5L1249.7,1356.0L1253.9,1357.5L1258.2,1358.8L1262.4,1360.0L1266.7,1361.1L1271.0,1362.2L1275.2,1363.1L1279.5,1364.0L1283.7,1364.9L1288.0,1365.6L1292.2,1366.3L1296.5,1367.0L1300.7,1367.6" stroke-dasharray="4.7 4.7"/>
<path d="M833.8,1349.5L838.1,1349.2L842.3,1348.9L846.6,1348.6L850.9,1348.1L855.1,1347.6L859.4,1347.0L863.7,1346.3L868.0,1345.5L872.3,1344.6L876.6,1343.5L880.9,1342.3L885.2,1340.9L889.5,1339.4L893.8,1337.6L898.2,1335.6L902.5,1333.3L906.9,1330.7L911.3,1327.8L915.7,1324.6L920.1,1321.0L924.5,1316.9L928.9,1312.4L933.4,1307.5L937.9,1301.9L942.4,1295.9L947.0,1289.2L951.5,1282.0L956.1,1274.1L960.7,1265.5L965.4,1256.4L970.1,1246.6L974.8,1236.3L979.5,1225.4L984.2,1214.1L989.0,1202.4L993.8,1190.5L998.5,1178.6L1003.3,1166.8L1008.0,1155.3L1012.8,1144.2L1017.5,1133.9L1022.1,1124.6L1026.7,1116.3L1031.3,1109.4L1035.8,1103.9L1040.2,1100.0L1044.5,1097.7L1048.8,1097.0L1053.1,1097.7L1057.2,1099.9L1061.3,1103.8L1065.3,1109.4L1069.2,1116.4L1073.1,1124.9L1077.0,1134.5L1080.8,1145.1L1084.5,1156.4L1088.2,1168.4L1092.0,1180.6L1095.7,1193.0L1099.4,1205.3L1103.1,1217.4L1106.9,1229.2L1110.6,1240.5L1114.4,1251.2L1118.2,1261.4L1122.1,1271.0L1125.9,1279.9L1129.8,1288.1L1133.7,1295.7L1137.7,1302.7L1141.7,1309.1L1145.7,1314.9L1149.7,1320.2L1153.7,1324.9L1157.8,1329.2L1161.9,1333.1L1166.0,1336.6L1170.1,1339.8L1174.2,1342.6L1178.4,1345.1L1182.5,1347.4L1186.7,1349.4L1190.8,1351.2L1195.0,1352.9L1199.2,1354.3L1203.4,1355.6L1207.6,1356.8L1211.8,1357.8L1216.0,1358.8L1220.2,1359.6L1224.5,1360.4L1228.7,1361.1L1232.9,1361.7L1237.1,1362.3L1241.4,1362.8L1245.6,1363.3L1249.8,1363.7L1254.1,1364.1L1258.3,1364.5L1262.5,1364.8L1266.8,1365.1L1271.0,1365.4L1275.3,1365.7L1279.5,1366.0L1283.7,1366.2L1288.0,1366.4L1292.2,1366.7L1296.5,1366.9L1300.7,1367.1"/>
</g>
<g fill="none" stroke="#000" stroke-width="4">
<line x1="1053.4" y1="334.8" x2="1120.2" y2="334.8"/>
<line x1="1343.3" y1="334.8" x2="1410.4" y2="334.8" stroke-dasharray="18.6 10.4"/>
<line x1="1658.8" y1="334.8" x2="1726" y2="334.8" stroke-dasharray="4 3.9"/>
<line x1="1512" y1="1235.5" x2="1578.3" y2="1235.5"/>
<line x1="1512" y1="1295.8" x2="1578.3" y2="1295.8" stroke-dasharray="18.6 10.4"/>
<line x1="1513.5" y1="1359" x2="1581" y2="1359" stroke-dasharray="4 3.9"/>
</g>
<text x="523.0" y="132.7" font-size="48.8" text-anchor="middle" class="b">The state of neuroplasticity</text>
<text x="522.8" y="190.7" font-size="48.8" text-anchor="middle" class="b">constrains environmental influences</text>
<text x="1478.7" y="132.7" font-size="48.8" text-anchor="middle" class="b">Experience accelerates or</text>
<text x="1478.5" y="191.0" font-size="48.8" text-anchor="middle" class="b">delays neuroplasticity</text>
<text x="1112.9" y="975.9" font-size="48.8" text-anchor="middle" class="b">Experience amplifies or</text>
<text x="1112.0" y="1033.5" font-size="48.8" text-anchor="middle" class="b">dampens neuroplasticity</text>
<text x="823.6" y="293" font-size="35.15" text-anchor="middle">Experience</text>
<text x="823.6" y="332.3" font-size="35.15" text-anchor="middle">(e.g., adversity)</text>
<text x="394.1" y="579.3" font-size="35.15" text-anchor="middle">Development</text>
<text x="1484.9" y="284.9" font-size="35.0" text-anchor="middle" class="i">Timing of neuroplasticity</text>
<text x="1220.7" y="346.4" font-size="31.5" text-anchor="middle">Normative</text>
<text x="1521.5" y="346.4" font-size="31.5" text-anchor="middle">Accelerated</text>
<text x="1812.1" y="345.9" font-size="31.5" text-anchor="middle">Delayed</text>
<text x="1296.0" y="500" font-size="35.15" text-anchor="middle">Neuroplasticity</text>
<text x="1587.8" y="780" font-size="35.15" text-anchor="middle">Development</text>
<text x="143.5" y="909.2" font-size="31.4" text-anchor="middle" class="b">Sensorimotor</text>
<text x="378.1" y="911" font-size="31.4" text-anchor="middle" class="b">Heteromodal</text>
<text x="623.8" y="907.3" font-size="31.4" text-anchor="middle" class="b">Association</text>
<text x="56.45" y="1041" font-size="34.95">Developmentally specific</text>
<text x="56.45" y="1082.9" font-size="34.95">effects of experience based</text>
<text x="56.45" y="1124.8" font-size="34.95">on developmental stage of</text>
<text x="56.45" y="1166.7" font-size="34.95">exposure (i.e., state and</text>
<text x="56.45" y="1208.6" font-size="34.95">location of neuroplasticity)</text>
<text x="764.5" y="1205.5" font-size="35.15" text-anchor="middle">Neuroplasticity</text>
<text x="1080.7" y="1458.4" font-size="35.15" text-anchor="middle">Development</text>
<text x="1706.2" y="1182.8" font-size="35.0" text-anchor="middle" class="i">Magnitude of neuroplasticity</text>
<text x="1679.1" y="1247.6" font-size="31.5" text-anchor="middle">Normative</text>
<text x="1684.0" y="1308.4" font-size="31.5" text-anchor="middle">Dampened</text>
<text x="1673.7" y="1371" font-size="31.5" text-anchor="middle">Amplified</text>
<text x="1786.5" y="1575.1" font-size="34" text-anchor="middle" class="b" stroke="#000" stroke-width="1" letter-spacing="-2.2">Trends in Cognitive Sciences</text>
</svg>
</body></html>
